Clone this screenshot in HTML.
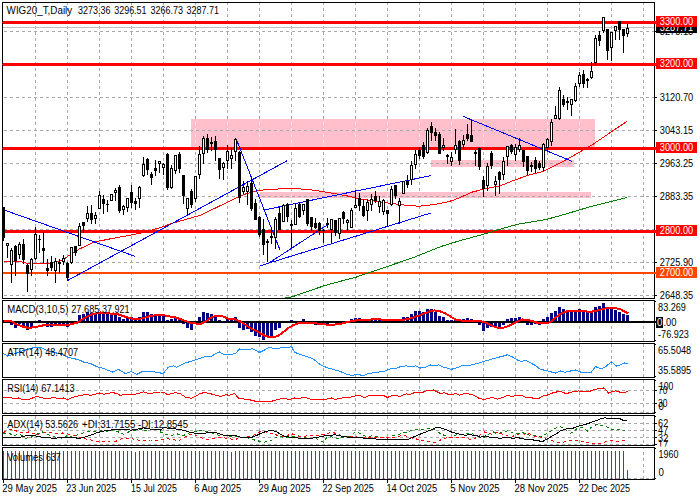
<!DOCTYPE html>
<html><head><meta charset="utf-8"><title>WIG20_T Daily</title>
<style>
html,body{margin:0;padding:0;background:#fff;}
svg{display:block;font-family:"Liberation Sans",sans-serif;font-size:10px;}
svg rect,svg polyline,svg line{shape-rendering:crispEdges;}
</style></head><body>
<svg width="700" height="500" viewBox="0 0 700 500">
<rect x="0" y="0" width="700" height="500" fill="#fff"/>
<rect x="191" y="119" width="404" height="28" fill="#ffc0cb"/>
<rect x="431" y="160" width="143" height="7" fill="#ffc0cb"/>
<rect x="260" y="192" width="331" height="6" fill="#ffc0cb"/>
<line x1="35.5" y1="3" x2="35.5" y2="298" stroke="#a9a9a9" stroke-dasharray="3 3" stroke-dashoffset="1"/>
<line x1="67.5" y1="3" x2="67.5" y2="298" stroke="#a9a9a9" stroke-dasharray="3 3" stroke-dashoffset="1"/>
<line x1="99.5" y1="3" x2="99.5" y2="298" stroke="#a9a9a9" stroke-dasharray="3 3" stroke-dashoffset="1"/>
<line x1="131.5" y1="3" x2="131.5" y2="298" stroke="#a9a9a9" stroke-dasharray="3 3" stroke-dashoffset="1"/>
<line x1="163.5" y1="3" x2="163.5" y2="298" stroke="#a9a9a9" stroke-dasharray="3 3" stroke-dashoffset="1"/>
<line x1="195.5" y1="3" x2="195.5" y2="298" stroke="#a9a9a9" stroke-dasharray="3 3" stroke-dashoffset="1"/>
<line x1="227.5" y1="3" x2="227.5" y2="298" stroke="#a9a9a9" stroke-dasharray="3 3" stroke-dashoffset="1"/>
<line x1="259.5" y1="3" x2="259.5" y2="298" stroke="#a9a9a9" stroke-dasharray="3 3" stroke-dashoffset="1"/>
<line x1="291.5" y1="3" x2="291.5" y2="298" stroke="#a9a9a9" stroke-dasharray="3 3" stroke-dashoffset="1"/>
<line x1="323.5" y1="3" x2="323.5" y2="298" stroke="#a9a9a9" stroke-dasharray="3 3" stroke-dashoffset="1"/>
<line x1="355.5" y1="3" x2="355.5" y2="298" stroke="#a9a9a9" stroke-dasharray="3 3" stroke-dashoffset="1"/>
<line x1="387.5" y1="3" x2="387.5" y2="298" stroke="#a9a9a9" stroke-dasharray="3 3" stroke-dashoffset="1"/>
<line x1="419.5" y1="3" x2="419.5" y2="298" stroke="#a9a9a9" stroke-dasharray="3 3" stroke-dashoffset="1"/>
<line x1="451.5" y1="3" x2="451.5" y2="298" stroke="#a9a9a9" stroke-dasharray="3 3" stroke-dashoffset="1"/>
<line x1="483.5" y1="3" x2="483.5" y2="298" stroke="#a9a9a9" stroke-dasharray="3 3" stroke-dashoffset="1"/>
<line x1="515.5" y1="3" x2="515.5" y2="298" stroke="#a9a9a9" stroke-dasharray="3 3" stroke-dashoffset="1"/>
<line x1="547.5" y1="3" x2="547.5" y2="298" stroke="#a9a9a9" stroke-dasharray="3 3" stroke-dashoffset="1"/>
<line x1="579.5" y1="3" x2="579.5" y2="298" stroke="#a9a9a9" stroke-dasharray="3 3" stroke-dashoffset="1"/>
<line x1="611.5" y1="3" x2="611.5" y2="298" stroke="#a9a9a9" stroke-dasharray="3 3" stroke-dashoffset="1"/>
<line x1="643.5" y1="3" x2="643.5" y2="298" stroke="#a9a9a9" stroke-dasharray="3 3" stroke-dashoffset="1"/>
<line x1="35.5" y1="301" x2="35.5" y2="341" stroke="#a9a9a9" stroke-dasharray="3 3" stroke-dashoffset="5"/>
<line x1="67.5" y1="301" x2="67.5" y2="341" stroke="#a9a9a9" stroke-dasharray="3 3" stroke-dashoffset="5"/>
<line x1="99.5" y1="301" x2="99.5" y2="341" stroke="#a9a9a9" stroke-dasharray="3 3" stroke-dashoffset="5"/>
<line x1="131.5" y1="301" x2="131.5" y2="341" stroke="#a9a9a9" stroke-dasharray="3 3" stroke-dashoffset="5"/>
<line x1="163.5" y1="301" x2="163.5" y2="341" stroke="#a9a9a9" stroke-dasharray="3 3" stroke-dashoffset="5"/>
<line x1="195.5" y1="301" x2="195.5" y2="341" stroke="#a9a9a9" stroke-dasharray="3 3" stroke-dashoffset="5"/>
<line x1="227.5" y1="301" x2="227.5" y2="341" stroke="#a9a9a9" stroke-dasharray="3 3" stroke-dashoffset="5"/>
<line x1="259.5" y1="301" x2="259.5" y2="341" stroke="#a9a9a9" stroke-dasharray="3 3" stroke-dashoffset="5"/>
<line x1="291.5" y1="301" x2="291.5" y2="341" stroke="#a9a9a9" stroke-dasharray="3 3" stroke-dashoffset="5"/>
<line x1="323.5" y1="301" x2="323.5" y2="341" stroke="#a9a9a9" stroke-dasharray="3 3" stroke-dashoffset="5"/>
<line x1="355.5" y1="301" x2="355.5" y2="341" stroke="#a9a9a9" stroke-dasharray="3 3" stroke-dashoffset="5"/>
<line x1="387.5" y1="301" x2="387.5" y2="341" stroke="#a9a9a9" stroke-dasharray="3 3" stroke-dashoffset="5"/>
<line x1="419.5" y1="301" x2="419.5" y2="341" stroke="#a9a9a9" stroke-dasharray="3 3" stroke-dashoffset="5"/>
<line x1="451.5" y1="301" x2="451.5" y2="341" stroke="#a9a9a9" stroke-dasharray="3 3" stroke-dashoffset="5"/>
<line x1="483.5" y1="301" x2="483.5" y2="341" stroke="#a9a9a9" stroke-dasharray="3 3" stroke-dashoffset="5"/>
<line x1="515.5" y1="301" x2="515.5" y2="341" stroke="#a9a9a9" stroke-dasharray="3 3" stroke-dashoffset="5"/>
<line x1="547.5" y1="301" x2="547.5" y2="341" stroke="#a9a9a9" stroke-dasharray="3 3" stroke-dashoffset="5"/>
<line x1="579.5" y1="301" x2="579.5" y2="341" stroke="#a9a9a9" stroke-dasharray="3 3" stroke-dashoffset="5"/>
<line x1="611.5" y1="301" x2="611.5" y2="341" stroke="#a9a9a9" stroke-dasharray="3 3" stroke-dashoffset="5"/>
<line x1="643.5" y1="301" x2="643.5" y2="341" stroke="#a9a9a9" stroke-dasharray="3 3" stroke-dashoffset="5"/>
<line x1="35.5" y1="344" x2="35.5" y2="377" stroke="#a9a9a9" stroke-dasharray="3 3" stroke-dashoffset="0"/>
<line x1="67.5" y1="344" x2="67.5" y2="377" stroke="#a9a9a9" stroke-dasharray="3 3" stroke-dashoffset="0"/>
<line x1="99.5" y1="344" x2="99.5" y2="377" stroke="#a9a9a9" stroke-dasharray="3 3" stroke-dashoffset="0"/>
<line x1="131.5" y1="344" x2="131.5" y2="377" stroke="#a9a9a9" stroke-dasharray="3 3" stroke-dashoffset="0"/>
<line x1="163.5" y1="344" x2="163.5" y2="377" stroke="#a9a9a9" stroke-dasharray="3 3" stroke-dashoffset="0"/>
<line x1="195.5" y1="344" x2="195.5" y2="377" stroke="#a9a9a9" stroke-dasharray="3 3" stroke-dashoffset="0"/>
<line x1="227.5" y1="344" x2="227.5" y2="377" stroke="#a9a9a9" stroke-dasharray="3 3" stroke-dashoffset="0"/>
<line x1="259.5" y1="344" x2="259.5" y2="377" stroke="#a9a9a9" stroke-dasharray="3 3" stroke-dashoffset="0"/>
<line x1="291.5" y1="344" x2="291.5" y2="377" stroke="#a9a9a9" stroke-dasharray="3 3" stroke-dashoffset="0"/>
<line x1="323.5" y1="344" x2="323.5" y2="377" stroke="#a9a9a9" stroke-dasharray="3 3" stroke-dashoffset="0"/>
<line x1="355.5" y1="344" x2="355.5" y2="377" stroke="#a9a9a9" stroke-dasharray="3 3" stroke-dashoffset="0"/>
<line x1="387.5" y1="344" x2="387.5" y2="377" stroke="#a9a9a9" stroke-dasharray="3 3" stroke-dashoffset="0"/>
<line x1="419.5" y1="344" x2="419.5" y2="377" stroke="#a9a9a9" stroke-dasharray="3 3" stroke-dashoffset="0"/>
<line x1="451.5" y1="344" x2="451.5" y2="377" stroke="#a9a9a9" stroke-dasharray="3 3" stroke-dashoffset="0"/>
<line x1="483.5" y1="344" x2="483.5" y2="377" stroke="#a9a9a9" stroke-dasharray="3 3" stroke-dashoffset="0"/>
<line x1="515.5" y1="344" x2="515.5" y2="377" stroke="#a9a9a9" stroke-dasharray="3 3" stroke-dashoffset="0"/>
<line x1="547.5" y1="344" x2="547.5" y2="377" stroke="#a9a9a9" stroke-dasharray="3 3" stroke-dashoffset="0"/>
<line x1="579.5" y1="344" x2="579.5" y2="377" stroke="#a9a9a9" stroke-dasharray="3 3" stroke-dashoffset="0"/>
<line x1="611.5" y1="344" x2="611.5" y2="377" stroke="#a9a9a9" stroke-dasharray="3 3" stroke-dashoffset="0"/>
<line x1="643.5" y1="344" x2="643.5" y2="377" stroke="#a9a9a9" stroke-dasharray="3 3" stroke-dashoffset="0"/>
<line x1="35.5" y1="380" x2="35.5" y2="413" stroke="#a9a9a9" stroke-dasharray="3 3" stroke-dashoffset="0"/>
<line x1="67.5" y1="380" x2="67.5" y2="413" stroke="#a9a9a9" stroke-dasharray="3 3" stroke-dashoffset="0"/>
<line x1="99.5" y1="380" x2="99.5" y2="413" stroke="#a9a9a9" stroke-dasharray="3 3" stroke-dashoffset="0"/>
<line x1="131.5" y1="380" x2="131.5" y2="413" stroke="#a9a9a9" stroke-dasharray="3 3" stroke-dashoffset="0"/>
<line x1="163.5" y1="380" x2="163.5" y2="413" stroke="#a9a9a9" stroke-dasharray="3 3" stroke-dashoffset="0"/>
<line x1="195.5" y1="380" x2="195.5" y2="413" stroke="#a9a9a9" stroke-dasharray="3 3" stroke-dashoffset="0"/>
<line x1="227.5" y1="380" x2="227.5" y2="413" stroke="#a9a9a9" stroke-dasharray="3 3" stroke-dashoffset="0"/>
<line x1="259.5" y1="380" x2="259.5" y2="413" stroke="#a9a9a9" stroke-dasharray="3 3" stroke-dashoffset="0"/>
<line x1="291.5" y1="380" x2="291.5" y2="413" stroke="#a9a9a9" stroke-dasharray="3 3" stroke-dashoffset="0"/>
<line x1="323.5" y1="380" x2="323.5" y2="413" stroke="#a9a9a9" stroke-dasharray="3 3" stroke-dashoffset="0"/>
<line x1="355.5" y1="380" x2="355.5" y2="413" stroke="#a9a9a9" stroke-dasharray="3 3" stroke-dashoffset="0"/>
<line x1="387.5" y1="380" x2="387.5" y2="413" stroke="#a9a9a9" stroke-dasharray="3 3" stroke-dashoffset="0"/>
<line x1="419.5" y1="380" x2="419.5" y2="413" stroke="#a9a9a9" stroke-dasharray="3 3" stroke-dashoffset="0"/>
<line x1="451.5" y1="380" x2="451.5" y2="413" stroke="#a9a9a9" stroke-dasharray="3 3" stroke-dashoffset="0"/>
<line x1="483.5" y1="380" x2="483.5" y2="413" stroke="#a9a9a9" stroke-dasharray="3 3" stroke-dashoffset="0"/>
<line x1="515.5" y1="380" x2="515.5" y2="413" stroke="#a9a9a9" stroke-dasharray="3 3" stroke-dashoffset="0"/>
<line x1="547.5" y1="380" x2="547.5" y2="413" stroke="#a9a9a9" stroke-dasharray="3 3" stroke-dashoffset="0"/>
<line x1="579.5" y1="380" x2="579.5" y2="413" stroke="#a9a9a9" stroke-dasharray="3 3" stroke-dashoffset="0"/>
<line x1="611.5" y1="380" x2="611.5" y2="413" stroke="#a9a9a9" stroke-dasharray="3 3" stroke-dashoffset="0"/>
<line x1="643.5" y1="380" x2="643.5" y2="413" stroke="#a9a9a9" stroke-dasharray="3 3" stroke-dashoffset="0"/>
<line x1="35.5" y1="416" x2="35.5" y2="445" stroke="#a9a9a9" stroke-dasharray="3 3" stroke-dashoffset="0"/>
<line x1="67.5" y1="416" x2="67.5" y2="445" stroke="#a9a9a9" stroke-dasharray="3 3" stroke-dashoffset="0"/>
<line x1="99.5" y1="416" x2="99.5" y2="445" stroke="#a9a9a9" stroke-dasharray="3 3" stroke-dashoffset="0"/>
<line x1="131.5" y1="416" x2="131.5" y2="445" stroke="#a9a9a9" stroke-dasharray="3 3" stroke-dashoffset="0"/>
<line x1="163.5" y1="416" x2="163.5" y2="445" stroke="#a9a9a9" stroke-dasharray="3 3" stroke-dashoffset="0"/>
<line x1="195.5" y1="416" x2="195.5" y2="445" stroke="#a9a9a9" stroke-dasharray="3 3" stroke-dashoffset="0"/>
<line x1="227.5" y1="416" x2="227.5" y2="445" stroke="#a9a9a9" stroke-dasharray="3 3" stroke-dashoffset="0"/>
<line x1="259.5" y1="416" x2="259.5" y2="445" stroke="#a9a9a9" stroke-dasharray="3 3" stroke-dashoffset="0"/>
<line x1="291.5" y1="416" x2="291.5" y2="445" stroke="#a9a9a9" stroke-dasharray="3 3" stroke-dashoffset="0"/>
<line x1="323.5" y1="416" x2="323.5" y2="445" stroke="#a9a9a9" stroke-dasharray="3 3" stroke-dashoffset="0"/>
<line x1="355.5" y1="416" x2="355.5" y2="445" stroke="#a9a9a9" stroke-dasharray="3 3" stroke-dashoffset="0"/>
<line x1="387.5" y1="416" x2="387.5" y2="445" stroke="#a9a9a9" stroke-dasharray="3 3" stroke-dashoffset="0"/>
<line x1="419.5" y1="416" x2="419.5" y2="445" stroke="#a9a9a9" stroke-dasharray="3 3" stroke-dashoffset="0"/>
<line x1="451.5" y1="416" x2="451.5" y2="445" stroke="#a9a9a9" stroke-dasharray="3 3" stroke-dashoffset="0"/>
<line x1="483.5" y1="416" x2="483.5" y2="445" stroke="#a9a9a9" stroke-dasharray="3 3" stroke-dashoffset="0"/>
<line x1="515.5" y1="416" x2="515.5" y2="445" stroke="#a9a9a9" stroke-dasharray="3 3" stroke-dashoffset="0"/>
<line x1="547.5" y1="416" x2="547.5" y2="445" stroke="#a9a9a9" stroke-dasharray="3 3" stroke-dashoffset="0"/>
<line x1="579.5" y1="416" x2="579.5" y2="445" stroke="#a9a9a9" stroke-dasharray="3 3" stroke-dashoffset="0"/>
<line x1="611.5" y1="416" x2="611.5" y2="445" stroke="#a9a9a9" stroke-dasharray="3 3" stroke-dashoffset="0"/>
<line x1="643.5" y1="416" x2="643.5" y2="445" stroke="#a9a9a9" stroke-dasharray="3 3" stroke-dashoffset="0"/>
<line x1="35.5" y1="448" x2="35.5" y2="479" stroke="#a9a9a9" stroke-dasharray="3 3" stroke-dashoffset="2"/>
<line x1="67.5" y1="448" x2="67.5" y2="479" stroke="#a9a9a9" stroke-dasharray="3 3" stroke-dashoffset="2"/>
<line x1="99.5" y1="448" x2="99.5" y2="479" stroke="#a9a9a9" stroke-dasharray="3 3" stroke-dashoffset="2"/>
<line x1="131.5" y1="448" x2="131.5" y2="479" stroke="#a9a9a9" stroke-dasharray="3 3" stroke-dashoffset="2"/>
<line x1="163.5" y1="448" x2="163.5" y2="479" stroke="#a9a9a9" stroke-dasharray="3 3" stroke-dashoffset="2"/>
<line x1="195.5" y1="448" x2="195.5" y2="479" stroke="#a9a9a9" stroke-dasharray="3 3" stroke-dashoffset="2"/>
<line x1="227.5" y1="448" x2="227.5" y2="479" stroke="#a9a9a9" stroke-dasharray="3 3" stroke-dashoffset="2"/>
<line x1="259.5" y1="448" x2="259.5" y2="479" stroke="#a9a9a9" stroke-dasharray="3 3" stroke-dashoffset="2"/>
<line x1="291.5" y1="448" x2="291.5" y2="479" stroke="#a9a9a9" stroke-dasharray="3 3" stroke-dashoffset="2"/>
<line x1="323.5" y1="448" x2="323.5" y2="479" stroke="#a9a9a9" stroke-dasharray="3 3" stroke-dashoffset="2"/>
<line x1="355.5" y1="448" x2="355.5" y2="479" stroke="#a9a9a9" stroke-dasharray="3 3" stroke-dashoffset="2"/>
<line x1="387.5" y1="448" x2="387.5" y2="479" stroke="#a9a9a9" stroke-dasharray="3 3" stroke-dashoffset="2"/>
<line x1="419.5" y1="448" x2="419.5" y2="479" stroke="#a9a9a9" stroke-dasharray="3 3" stroke-dashoffset="2"/>
<line x1="451.5" y1="448" x2="451.5" y2="479" stroke="#a9a9a9" stroke-dasharray="3 3" stroke-dashoffset="2"/>
<line x1="483.5" y1="448" x2="483.5" y2="479" stroke="#a9a9a9" stroke-dasharray="3 3" stroke-dashoffset="2"/>
<line x1="515.5" y1="448" x2="515.5" y2="479" stroke="#a9a9a9" stroke-dasharray="3 3" stroke-dashoffset="2"/>
<line x1="547.5" y1="448" x2="547.5" y2="479" stroke="#a9a9a9" stroke-dasharray="3 3" stroke-dashoffset="2"/>
<line x1="579.5" y1="448" x2="579.5" y2="479" stroke="#a9a9a9" stroke-dasharray="3 3" stroke-dashoffset="2"/>
<line x1="611.5" y1="448" x2="611.5" y2="479" stroke="#a9a9a9" stroke-dasharray="3 3" stroke-dashoffset="2"/>
<line x1="643.5" y1="448" x2="643.5" y2="479" stroke="#a9a9a9" stroke-dasharray="3 3" stroke-dashoffset="2"/>
<line x1="195.5" y1="119" x2="195.5" y2="147" stroke="#c0fff0" stroke-dasharray="3 3" stroke-dashoffset="3"/>
<line x1="227.5" y1="119" x2="227.5" y2="147" stroke="#c0fff0" stroke-dasharray="3 3" stroke-dashoffset="3"/>
<line x1="259.5" y1="119" x2="259.5" y2="147" stroke="#c0fff0" stroke-dasharray="3 3" stroke-dashoffset="3"/>
<line x1="291.5" y1="119" x2="291.5" y2="147" stroke="#c0fff0" stroke-dasharray="3 3" stroke-dashoffset="3"/>
<line x1="323.5" y1="119" x2="323.5" y2="147" stroke="#c0fff0" stroke-dasharray="3 3" stroke-dashoffset="3"/>
<line x1="355.5" y1="119" x2="355.5" y2="147" stroke="#c0fff0" stroke-dasharray="3 3" stroke-dashoffset="3"/>
<line x1="387.5" y1="119" x2="387.5" y2="147" stroke="#c0fff0" stroke-dasharray="3 3" stroke-dashoffset="3"/>
<line x1="419.5" y1="119" x2="419.5" y2="147" stroke="#c0fff0" stroke-dasharray="3 3" stroke-dashoffset="3"/>
<line x1="451.5" y1="119" x2="451.5" y2="147" stroke="#c0fff0" stroke-dasharray="3 3" stroke-dashoffset="3"/>
<line x1="483.5" y1="119" x2="483.5" y2="147" stroke="#c0fff0" stroke-dasharray="3 3" stroke-dashoffset="3"/>
<line x1="515.5" y1="119" x2="515.5" y2="147" stroke="#c0fff0" stroke-dasharray="3 3" stroke-dashoffset="3"/>
<line x1="547.5" y1="119" x2="547.5" y2="147" stroke="#c0fff0" stroke-dasharray="3 3" stroke-dashoffset="3"/>
<line x1="579.5" y1="119" x2="579.5" y2="147" stroke="#c0fff0" stroke-dasharray="3 3" stroke-dashoffset="3"/>
<line x1="451.5" y1="160" x2="451.5" y2="167" stroke="#c0fff0" stroke-dasharray="3 3" stroke-dashoffset="2"/>
<line x1="483.5" y1="160" x2="483.5" y2="167" stroke="#c0fff0" stroke-dasharray="3 3" stroke-dashoffset="2"/>
<line x1="515.5" y1="160" x2="515.5" y2="167" stroke="#c0fff0" stroke-dasharray="3 3" stroke-dashoffset="2"/>
<line x1="547.5" y1="160" x2="547.5" y2="167" stroke="#c0fff0" stroke-dasharray="3 3" stroke-dashoffset="2"/>
<line x1="291.5" y1="192" x2="291.5" y2="198" stroke="#c0fff0" stroke-dasharray="3 3" stroke-dashoffset="4"/>
<line x1="323.5" y1="192" x2="323.5" y2="198" stroke="#c0fff0" stroke-dasharray="3 3" stroke-dashoffset="4"/>
<line x1="355.5" y1="192" x2="355.5" y2="198" stroke="#c0fff0" stroke-dasharray="3 3" stroke-dashoffset="4"/>
<line x1="387.5" y1="192" x2="387.5" y2="198" stroke="#c0fff0" stroke-dasharray="3 3" stroke-dashoffset="4"/>
<line x1="419.5" y1="192" x2="419.5" y2="198" stroke="#c0fff0" stroke-dasharray="3 3" stroke-dashoffset="4"/>
<line x1="451.5" y1="192" x2="451.5" y2="198" stroke="#c0fff0" stroke-dasharray="3 3" stroke-dashoffset="4"/>
<line x1="483.5" y1="192" x2="483.5" y2="198" stroke="#c0fff0" stroke-dasharray="3 3" stroke-dashoffset="4"/>
<line x1="515.5" y1="192" x2="515.5" y2="198" stroke="#c0fff0" stroke-dasharray="3 3" stroke-dashoffset="4"/>
<line x1="547.5" y1="192" x2="547.5" y2="198" stroke="#c0fff0" stroke-dasharray="3 3" stroke-dashoffset="4"/>
<line x1="579.5" y1="192" x2="579.5" y2="198" stroke="#c0fff0" stroke-dasharray="3 3" stroke-dashoffset="4"/>
<line x1="3" y1="31.5" x2="654" y2="31.5" stroke="#a9a9a9" stroke-dasharray="3 3" stroke-dashoffset="5"/>
<line x1="3" y1="64.5" x2="654" y2="64.5" stroke="#a9a9a9" stroke-dasharray="3 3" stroke-dashoffset="5"/>
<line x1="3" y1="97.5" x2="654" y2="97.5" stroke="#a9a9a9" stroke-dasharray="3 3" stroke-dashoffset="5"/>
<line x1="3" y1="130.5" x2="654" y2="130.5" stroke="#a9a9a9" stroke-dasharray="3 3" stroke-dashoffset="5"/>
<line x1="3" y1="163.5" x2="654" y2="163.5" stroke="#a9a9a9" stroke-dasharray="3 3" stroke-dashoffset="5"/>
<line x1="3" y1="196.5" x2="654" y2="196.5" stroke="#a9a9a9" stroke-dasharray="3 3" stroke-dashoffset="5"/>
<line x1="3" y1="229.5" x2="654" y2="229.5" stroke="#a9a9a9" stroke-dasharray="3 3" stroke-dashoffset="5"/>
<line x1="3" y1="262.5" x2="654" y2="262.5" stroke="#a9a9a9" stroke-dasharray="3 3" stroke-dashoffset="5"/>
<line x1="3" y1="295.5" x2="654" y2="295.5" stroke="#a9a9a9" stroke-dasharray="3 3" stroke-dashoffset="5"/>
<line x1="3" y1="390.5" x2="654" y2="390.5" stroke="#a9a9a9" stroke-dasharray="3 3" stroke-dashoffset="5"/>
<line x1="3" y1="403.5" x2="654" y2="403.5" stroke="#a9a9a9" stroke-dasharray="3 3" stroke-dashoffset="5"/>
<line x1="3" y1="412.5" x2="654" y2="412.5" stroke="#a9a9a9" stroke-dasharray="3 3" stroke-dashoffset="5"/>
<line x1="3" y1="423.5" x2="654" y2="423.5" stroke="#a9a9a9" stroke-dasharray="3 3" stroke-dashoffset="5"/>
<line x1="3" y1="430.5" x2="654" y2="430.5" stroke="#a9a9a9" stroke-dasharray="3 3" stroke-dashoffset="5"/>
<line x1="3" y1="437.5" x2="654" y2="437.5" stroke="#a9a9a9" stroke-dasharray="3 3" stroke-dashoffset="5"/>
<line x1="3" y1="444.5" x2="654" y2="444.5" stroke="#a9a9a9" stroke-dasharray="3 3" stroke-dashoffset="5"/>
<line x1="3" y1="478.5" x2="654" y2="478.5" stroke="#a9a9a9" stroke-dasharray="3 3" stroke-dashoffset="5"/>
<rect x="3" y="27" width="651" height="1" fill="#c0c0c0"/>
<rect x="3" y="451" width="1" height="28" fill="#008000"/>
<rect x="7" y="451" width="1" height="28" fill="#008000"/>
<rect x="11" y="451" width="1" height="28" fill="#008000"/>
<rect x="15" y="451" width="1" height="28" fill="#ff0000"/>
<rect x="19" y="451" width="1" height="28" fill="#008000"/>
<rect x="23" y="451" width="1" height="28" fill="#ff0000"/>
<rect x="27" y="451" width="1" height="28" fill="#ff0000"/>
<rect x="31" y="451" width="1" height="28" fill="#ff0000"/>
<rect x="35" y="451" width="1" height="28" fill="#008000"/>
<rect x="39" y="451" width="1" height="28" fill="#ff0000"/>
<rect x="43" y="451" width="1" height="28" fill="#008000"/>
<rect x="47" y="451" width="1" height="28" fill="#ff0000"/>
<rect x="51" y="451" width="1" height="28" fill="#ff0000"/>
<rect x="55" y="451" width="1" height="28" fill="#008000"/>
<rect x="59" y="451" width="1" height="28" fill="#ff0000"/>
<rect x="63" y="451" width="1" height="28" fill="#ff0000"/>
<rect x="67" y="451" width="1" height="28" fill="#008000"/>
<rect x="71" y="451" width="1" height="28" fill="#008000"/>
<rect x="75" y="451" width="1" height="28" fill="#ff0000"/>
<rect x="79" y="451" width="1" height="28" fill="#008000"/>
<rect x="83" y="451" width="1" height="28" fill="#008000"/>
<rect x="87" y="451" width="1" height="28" fill="#008000"/>
<rect x="91" y="451" width="1" height="28" fill="#008000"/>
<rect x="95" y="451" width="1" height="28" fill="#ff0000"/>
<rect x="99" y="451" width="1" height="28" fill="#ff0000"/>
<rect x="103" y="451" width="1" height="28" fill="#008000"/>
<rect x="107" y="451" width="1" height="28" fill="#ff0000"/>
<rect x="111" y="451" width="1" height="28" fill="#008000"/>
<rect x="115" y="451" width="1" height="28" fill="#008000"/>
<rect x="119" y="451" width="1" height="28" fill="#008000"/>
<rect x="123" y="451" width="1" height="28" fill="#008000"/>
<rect x="127" y="451" width="1" height="28" fill="#ff0000"/>
<rect x="131" y="451" width="1" height="28" fill="#008000"/>
<rect x="135" y="452" width="1" height="27" fill="#ff0000"/>
<rect x="139" y="451" width="1" height="28" fill="#008000"/>
<rect x="143" y="451" width="1" height="28" fill="#008000"/>
<rect x="147" y="451" width="1" height="28" fill="#ff0000"/>
<rect x="151" y="451" width="1" height="28" fill="#ff0000"/>
<rect x="155" y="451" width="1" height="28" fill="#008000"/>
<rect x="159" y="451" width="1" height="28" fill="#008000"/>
<rect x="163" y="451" width="1" height="28" fill="#ff0000"/>
<rect x="167" y="451" width="1" height="28" fill="#008000"/>
<rect x="171" y="451" width="1" height="28" fill="#ff0000"/>
<rect x="175" y="451" width="1" height="28" fill="#ff0000"/>
<rect x="179" y="451" width="1" height="28" fill="#008000"/>
<rect x="183" y="451" width="1" height="28" fill="#008000"/>
<rect x="187" y="451" width="1" height="28" fill="#ff0000"/>
<rect x="191" y="451" width="1" height="28" fill="#ff0000"/>
<rect x="195" y="451" width="1" height="28" fill="#008000"/>
<rect x="199" y="451" width="1" height="28" fill="#ff0000"/>
<rect x="203" y="451" width="1" height="28" fill="#ff0000"/>
<rect x="207" y="451" width="1" height="28" fill="#ff0000"/>
<rect x="211" y="451" width="1" height="28" fill="#ff0000"/>
<rect x="215" y="451" width="1" height="28" fill="#008000"/>
<rect x="219" y="451" width="1" height="28" fill="#ff0000"/>
<rect x="223" y="451" width="1" height="28" fill="#008000"/>
<rect x="227" y="451" width="1" height="28" fill="#ff0000"/>
<rect x="231" y="452" width="1" height="27" fill="#ff0000"/>
<rect x="235" y="451" width="1" height="28" fill="#008000"/>
<rect x="239" y="451" width="1" height="28" fill="#008000"/>
<rect x="243" y="451" width="1" height="28" fill="#ff0000"/>
<rect x="247" y="451" width="1" height="28" fill="#008000"/>
<rect x="251" y="451" width="1" height="28" fill="#008000"/>
<rect x="255" y="451" width="1" height="28" fill="#008000"/>
<rect x="259" y="451" width="1" height="28" fill="#ff0000"/>
<rect x="263" y="451" width="1" height="28" fill="#008000"/>
<rect x="267" y="451" width="1" height="28" fill="#ff0000"/>
<rect x="271" y="451" width="1" height="28" fill="#008000"/>
<rect x="275" y="451" width="1" height="28" fill="#ff0000"/>
<rect x="279" y="451" width="1" height="28" fill="#008000"/>
<rect x="283" y="451" width="1" height="28" fill="#ff0000"/>
<rect x="287" y="451" width="1" height="28" fill="#ff0000"/>
<rect x="291" y="451" width="1" height="28" fill="#008000"/>
<rect x="295" y="451" width="1" height="28" fill="#ff0000"/>
<rect x="299" y="451" width="1" height="28" fill="#ff0000"/>
<rect x="303" y="451" width="1" height="28" fill="#ff0000"/>
<rect x="307" y="451" width="1" height="28" fill="#ff0000"/>
<rect x="311" y="451" width="1" height="28" fill="#ff0000"/>
<rect x="315" y="451" width="1" height="28" fill="#008000"/>
<rect x="319" y="451" width="1" height="28" fill="#ff0000"/>
<rect x="323" y="451" width="1" height="28" fill="#008000"/>
<rect x="327" y="451" width="1" height="28" fill="#ff0000"/>
<rect x="331" y="451" width="1" height="28" fill="#008000"/>
<rect x="335" y="451" width="1" height="28" fill="#008000"/>
<rect x="339" y="451" width="1" height="28" fill="#ff0000"/>
<rect x="343" y="451" width="1" height="28" fill="#008000"/>
<rect x="347" y="451" width="1" height="28" fill="#ff0000"/>
<rect x="351" y="451" width="1" height="28" fill="#008000"/>
<rect x="355" y="451" width="1" height="28" fill="#ff0000"/>
<rect x="359" y="451" width="1" height="28" fill="#ff0000"/>
<rect x="363" y="451" width="1" height="28" fill="#ff0000"/>
<rect x="367" y="451" width="1" height="28" fill="#008000"/>
<rect x="371" y="451" width="1" height="28" fill="#008000"/>
<rect x="375" y="451" width="1" height="28" fill="#ff0000"/>
<rect x="379" y="451" width="1" height="28" fill="#008000"/>
<rect x="383" y="451" width="1" height="28" fill="#ff0000"/>
<rect x="387" y="451" width="1" height="28" fill="#008000"/>
<rect x="391" y="451" width="1" height="28" fill="#ff0000"/>
<rect x="395" y="451" width="1" height="28" fill="#008000"/>
<rect x="399" y="451" width="1" height="28" fill="#008000"/>
<rect x="403" y="451" width="1" height="28" fill="#ff0000"/>
<rect x="407" y="451" width="1" height="28" fill="#008000"/>
<rect x="411" y="451" width="1" height="28" fill="#ff0000"/>
<rect x="415" y="451" width="1" height="28" fill="#008000"/>
<rect x="419" y="451" width="1" height="28" fill="#ff0000"/>
<rect x="423" y="451" width="1" height="28" fill="#008000"/>
<rect x="427" y="451" width="1" height="28" fill="#008000"/>
<rect x="431" y="451" width="1" height="28" fill="#008000"/>
<rect x="435" y="451" width="1" height="28" fill="#008000"/>
<rect x="439" y="451" width="1" height="28" fill="#ff0000"/>
<rect x="443" y="451" width="1" height="28" fill="#ff0000"/>
<rect x="447" y="451" width="1" height="28" fill="#ff0000"/>
<rect x="451" y="451" width="1" height="28" fill="#008000"/>
<rect x="455" y="451" width="1" height="28" fill="#008000"/>
<rect x="459" y="451" width="1" height="28" fill="#008000"/>
<rect x="463" y="451" width="1" height="28" fill="#ff0000"/>
<rect x="467" y="451" width="1" height="28" fill="#008000"/>
<rect x="471" y="451" width="1" height="28" fill="#ff0000"/>
<rect x="475" y="451" width="1" height="28" fill="#008000"/>
<rect x="479" y="451" width="1" height="28" fill="#ff0000"/>
<rect x="483" y="451" width="1" height="28" fill="#008000"/>
<rect x="487" y="451" width="1" height="28" fill="#ff0000"/>
<rect x="491" y="451" width="1" height="28" fill="#008000"/>
<rect x="495" y="451" width="1" height="28" fill="#008000"/>
<rect x="499" y="451" width="1" height="28" fill="#ff0000"/>
<rect x="503" y="451" width="1" height="28" fill="#ff0000"/>
<rect x="507" y="451" width="1" height="28" fill="#008000"/>
<rect x="511" y="451" width="1" height="28" fill="#008000"/>
<rect x="515" y="451" width="1" height="28" fill="#ff0000"/>
<rect x="519" y="451" width="1" height="28" fill="#008000"/>
<rect x="523" y="451" width="1" height="28" fill="#008000"/>
<rect x="527" y="451" width="1" height="28" fill="#008000"/>
<rect x="531" y="451" width="1" height="28" fill="#008000"/>
<rect x="535" y="451" width="1" height="28" fill="#ff0000"/>
<rect x="539" y="451" width="1" height="28" fill="#ff0000"/>
<rect x="543" y="451" width="1" height="28" fill="#008000"/>
<rect x="547" y="451" width="1" height="28" fill="#008000"/>
<rect x="551" y="451" width="1" height="28" fill="#ff0000"/>
<rect x="555" y="451" width="1" height="28" fill="#ff0000"/>
<rect x="559" y="451" width="1" height="28" fill="#008000"/>
<rect x="563" y="451" width="1" height="28" fill="#ff0000"/>
<rect x="567" y="451" width="1" height="28" fill="#ff0000"/>
<rect x="571" y="451" width="1" height="28" fill="#ff0000"/>
<rect x="575" y="451" width="1" height="28" fill="#008000"/>
<rect x="579" y="451" width="1" height="28" fill="#008000"/>
<rect x="583" y="451" width="1" height="28" fill="#ff0000"/>
<rect x="587" y="451" width="1" height="28" fill="#008000"/>
<rect x="591" y="451" width="1" height="28" fill="#ff0000"/>
<rect x="595" y="451" width="1" height="28" fill="#008000"/>
<rect x="599" y="451" width="1" height="28" fill="#008000"/>
<rect x="603" y="451" width="1" height="28" fill="#008000"/>
<rect x="607" y="451" width="1" height="28" fill="#008000"/>
<rect x="611" y="451" width="1" height="28" fill="#ff0000"/>
<rect x="615" y="451" width="1" height="28" fill="#008000"/>
<rect x="619" y="451" width="1" height="28" fill="#008000"/>
<rect x="623" y="451" width="1" height="28" fill="#ff0000"/>
<rect x="627" y="470" width="1" height="9" fill="#ff0000"/>
<rect x="2" y="320" width="3" height="1" fill="#000080"/>
<rect x="6" y="320" width="3" height="1" fill="#000080"/>
<rect x="10" y="323" width="3" height="2" fill="#000080"/>
<rect x="14" y="323" width="3" height="5" fill="#000080"/>
<rect x="18" y="323" width="3" height="1" fill="#000080"/>
<rect x="22" y="323" width="3" height="4" fill="#000080"/>
<rect x="26" y="323" width="3" height="7" fill="#000080"/>
<rect x="30" y="323" width="3" height="4" fill="#000080"/>
<rect x="38" y="320" width="3" height="1" fill="#000080"/>
<rect x="46" y="323" width="3" height="4" fill="#000080"/>
<rect x="50" y="323" width="3" height="4" fill="#000080"/>
<rect x="54" y="323" width="3" height="1" fill="#000080"/>
<rect x="58" y="323" width="3" height="1" fill="#000080"/>
<rect x="62" y="323" width="3" height="1" fill="#000080"/>
<rect x="66" y="323" width="3" height="4" fill="#000080"/>
<rect x="78" y="315" width="3" height="6" fill="#000080"/>
<rect x="82" y="314" width="3" height="7" fill="#000080"/>
<rect x="86" y="312" width="3" height="9" fill="#000080"/>
<rect x="90" y="313" width="3" height="8" fill="#000080"/>
<rect x="94" y="313" width="3" height="8" fill="#000080"/>
<rect x="98" y="312" width="3" height="9" fill="#000080"/>
<rect x="102" y="312" width="3" height="9" fill="#000080"/>
<rect x="106" y="313" width="3" height="8" fill="#000080"/>
<rect x="110" y="313" width="3" height="8" fill="#000080"/>
<rect x="114" y="314" width="3" height="7" fill="#000080"/>
<rect x="118" y="317" width="3" height="4" fill="#000080"/>
<rect x="122" y="319" width="3" height="2" fill="#000080"/>
<rect x="126" y="318" width="3" height="3" fill="#000080"/>
<rect x="130" y="317" width="3" height="4" fill="#000080"/>
<rect x="134" y="319" width="3" height="2" fill="#000080"/>
<rect x="138" y="317" width="3" height="4" fill="#000080"/>
<rect x="142" y="312" width="3" height="9" fill="#000080"/>
<rect x="146" y="312" width="3" height="9" fill="#000080"/>
<rect x="150" y="314" width="3" height="7" fill="#000080"/>
<rect x="154" y="314" width="3" height="7" fill="#000080"/>
<rect x="158" y="314" width="3" height="7" fill="#000080"/>
<rect x="162" y="314" width="3" height="7" fill="#000080"/>
<rect x="166" y="320" width="3" height="1" fill="#000080"/>
<rect x="170" y="319" width="3" height="2" fill="#000080"/>
<rect x="174" y="317" width="3" height="4" fill="#000080"/>
<rect x="178" y="320" width="3" height="1" fill="#000080"/>
<rect x="182" y="323" width="3" height="1" fill="#000080"/>
<rect x="186" y="323" width="3" height="5" fill="#000080"/>
<rect x="190" y="323" width="3" height="7" fill="#000080"/>
<rect x="198" y="317" width="3" height="4" fill="#000080"/>
<rect x="202" y="312" width="3" height="9" fill="#000080"/>
<rect x="206" y="313" width="3" height="8" fill="#000080"/>
<rect x="210" y="314" width="3" height="7" fill="#000080"/>
<rect x="214" y="316" width="3" height="5" fill="#000080"/>
<rect x="218" y="320" width="3" height="1" fill="#000080"/>
<rect x="226" y="319" width="3" height="2" fill="#000080"/>
<rect x="230" y="319" width="3" height="2" fill="#000080"/>
<rect x="234" y="317" width="3" height="4" fill="#000080"/>
<rect x="238" y="323" width="3" height="5" fill="#000080"/>
<rect x="242" y="323" width="3" height="7" fill="#000080"/>
<rect x="246" y="323" width="3" height="6" fill="#000080"/>
<rect x="250" y="323" width="3" height="9" fill="#000080"/>
<rect x="254" y="323" width="3" height="13" fill="#000080"/>
<rect x="258" y="323" width="3" height="14" fill="#000080"/>
<rect x="262" y="323" width="3" height="17" fill="#000080"/>
<rect x="266" y="323" width="3" height="14" fill="#000080"/>
<rect x="270" y="323" width="3" height="13" fill="#000080"/>
<rect x="274" y="323" width="3" height="7" fill="#000080"/>
<rect x="278" y="323" width="3" height="5" fill="#000080"/>
<rect x="290" y="320" width="3" height="1" fill="#000080"/>
<rect x="302" y="319" width="3" height="2" fill="#000080"/>
<rect x="310" y="323" width="3" height="1" fill="#000080"/>
<rect x="314" y="323" width="3" height="2" fill="#000080"/>
<rect x="318" y="323" width="3" height="2" fill="#000080"/>
<rect x="322" y="323" width="3" height="2" fill="#000080"/>
<rect x="326" y="323" width="3" height="1" fill="#000080"/>
<rect x="350" y="319" width="3" height="2" fill="#000080"/>
<rect x="354" y="318" width="3" height="3" fill="#000080"/>
<rect x="358" y="318" width="3" height="3" fill="#000080"/>
<rect x="362" y="320" width="3" height="1" fill="#000080"/>
<rect x="366" y="320" width="3" height="1" fill="#000080"/>
<rect x="370" y="319" width="3" height="2" fill="#000080"/>
<rect x="374" y="318" width="3" height="3" fill="#000080"/>
<rect x="378" y="319" width="3" height="2" fill="#000080"/>
<rect x="382" y="320" width="3" height="1" fill="#000080"/>
<rect x="386" y="320" width="3" height="1" fill="#000080"/>
<rect x="390" y="320" width="3" height="1" fill="#000080"/>
<rect x="394" y="319" width="3" height="2" fill="#000080"/>
<rect x="398" y="320" width="3" height="1" fill="#000080"/>
<rect x="402" y="317" width="3" height="4" fill="#000080"/>
<rect x="406" y="317" width="3" height="4" fill="#000080"/>
<rect x="410" y="314" width="3" height="7" fill="#000080"/>
<rect x="414" y="311" width="3" height="10" fill="#000080"/>
<rect x="418" y="311" width="3" height="10" fill="#000080"/>
<rect x="422" y="312" width="3" height="9" fill="#000080"/>
<rect x="426" y="309" width="3" height="12" fill="#000080"/>
<rect x="430" y="309" width="3" height="12" fill="#000080"/>
<rect x="434" y="312" width="3" height="9" fill="#000080"/>
<rect x="438" y="316" width="3" height="5" fill="#000080"/>
<rect x="442" y="317" width="3" height="4" fill="#000080"/>
<rect x="446" y="320" width="3" height="1" fill="#000080"/>
<rect x="450" y="320" width="3" height="1" fill="#000080"/>
<rect x="454" y="320" width="3" height="1" fill="#000080"/>
<rect x="462" y="319" width="3" height="2" fill="#000080"/>
<rect x="466" y="318" width="3" height="3" fill="#000080"/>
<rect x="470" y="319" width="3" height="2" fill="#000080"/>
<rect x="478" y="323" width="3" height="2" fill="#000080"/>
<rect x="482" y="323" width="3" height="8" fill="#000080"/>
<rect x="486" y="323" width="3" height="5" fill="#000080"/>
<rect x="490" y="323" width="3" height="4" fill="#000080"/>
<rect x="494" y="323" width="3" height="5" fill="#000080"/>
<rect x="498" y="323" width="3" height="5" fill="#000080"/>
<rect x="502" y="323" width="3" height="2" fill="#000080"/>
<rect x="506" y="319" width="3" height="2" fill="#000080"/>
<rect x="510" y="318" width="3" height="3" fill="#000080"/>
<rect x="514" y="318" width="3" height="3" fill="#000080"/>
<rect x="518" y="317" width="3" height="4" fill="#000080"/>
<rect x="522" y="320" width="3" height="1" fill="#000080"/>
<rect x="526" y="323" width="3" height="2" fill="#000080"/>
<rect x="530" y="323" width="3" height="2" fill="#000080"/>
<rect x="534" y="323" width="3" height="1" fill="#000080"/>
<rect x="538" y="323" width="3" height="2" fill="#000080"/>
<rect x="542" y="319" width="3" height="2" fill="#000080"/>
<rect x="546" y="317" width="3" height="4" fill="#000080"/>
<rect x="550" y="313" width="3" height="8" fill="#000080"/>
<rect x="554" y="311" width="3" height="10" fill="#000080"/>
<rect x="558" y="307" width="3" height="14" fill="#000080"/>
<rect x="562" y="309" width="3" height="12" fill="#000080"/>
<rect x="566" y="311" width="3" height="10" fill="#000080"/>
<rect x="570" y="312" width="3" height="9" fill="#000080"/>
<rect x="574" y="311" width="3" height="10" fill="#000080"/>
<rect x="578" y="309" width="3" height="12" fill="#000080"/>
<rect x="582" y="311" width="3" height="10" fill="#000080"/>
<rect x="586" y="312" width="3" height="9" fill="#000080"/>
<rect x="590" y="311" width="3" height="10" fill="#000080"/>
<rect x="594" y="307" width="3" height="14" fill="#000080"/>
<rect x="598" y="306" width="3" height="15" fill="#000080"/>
<rect x="602" y="303" width="3" height="18" fill="#000080"/>
<rect x="606" y="308" width="3" height="13" fill="#000080"/>
<rect x="610" y="309" width="3" height="12" fill="#000080"/>
<rect x="614" y="310" width="3" height="11" fill="#000080"/>
<rect x="618" y="312" width="3" height="9" fill="#000080"/>
<rect x="622" y="314" width="3" height="7" fill="#000080"/>
<rect x="626" y="315" width="3" height="6" fill="#000080"/>
<rect x="3" y="321" width="653" height="2" fill="#000"/>
<polyline points="3.5,321 11.5,321 14.5,323.5 22.5,326.5 28.5,328 35.5,327.1 42.5,325.5 50.5,324.5 60.5,325 70.5,324.5 77.5,322.5 80.5,320.5 86.5,316.8 91.5,314.5 100.5,312.5 105.5,312.9 112.5,313.8 118.5,314.5 125.5,316.8 131.5,318.5 137.5,319.3 143.5,317.9 150.5,315.9 160.5,314.7 167.5,316 175.5,317.5 183.5,320.2 190.5,323 200.5,323.9 205.5,321.5 210.5,317.9 215.5,315.9 220.5,315.6 225.5,317.5 229.5,319.1 235.5,319.5 240.5,321.5 245.5,324.8 250.5,328.2 257.5,331.6 263.5,335.1 268.5,336.9 272.5,337.3 277.5,336.2 282.5,332.8 287.5,328.5 292.5,325.5 297.5,323.5 303.5,322.5 310.5,322.5 320.5,324 330.5,325 340.5,323.9 347.5,322 355.5,320.5 365.5,320 375.5,319.1 385.5,319.8 395.5,320.2 405.5,319.5 412.5,317.9 418.5,315.6 424.5,313.4 430.5,311.1 434.5,310.4 440.5,311.5 445.5,313.5 450.5,316.5 455.5,319.5 460.5,320.5 470.5,320.5 480.5,321 487.5,323.5 492.5,325.9 498.5,328.2 503.5,327.8 508.5,325.9 513.5,323.5 518.5,321 522.5,319.5 528.5,320 533.5,321.5 538.5,323.2 547.5,323.2 551.5,321.4 556.5,316.8 560.5,314 565.5,311.8 570.5,310.5 580.5,310.5 586.5,311.5 592.5,311.5 597.5,310.5 602.5,309 607.5,308.1 615.5,308.1 620.5,309.2 624.5,311.5 628.5,313.5" fill="none" stroke="#ff0000" stroke-width="2" stroke-linejoin="round"/>
<polyline points="3.5,353.5 7.5,356.1 12.5,354.5 20.5,351.5 30.5,348.5 36.5,347 40.5,347 44.5,349.5 52.5,352 62.5,354.5 68.5,357.5 75.5,359 80.5,360.5 84.5,362.5 90.5,363.5 96.5,366.5 103.5,368.5 108.5,370.5 112.5,372 118.5,369.5 125.5,373.5 131.5,371.5 136.5,374.5 143.5,371 150.5,371 157.5,372.5 160.5,373 163.5,373 168.5,367.1 173.5,365.9 176.5,367.1 183.5,363.6 190.5,361.4 197.5,359.1 204.5,356.8 211.5,356.1 216.5,353.4 219.5,352 223.5,354.5 228.5,354.5 235.5,353.8 239.5,348.8 244.5,349.9 252.5,348.8 259.5,352.5 263.5,350.5 269.5,347.4 274.5,348.5 281.5,347.9 286.5,347.9 291.5,346.5 294.5,352.3 300.5,354.5 307.5,356.8 313.5,359.1 317.5,362.5 320.5,364.8 326.5,367.5 333.5,369.5 340.5,371.5 345.5,373.9 351.5,375.5 357.5,374.5 363.5,375.5 368.5,373.5 375.5,372.5 383.5,371.5 390.5,368.8 395.5,368.8 400.5,366.5 406.5,365.9 410.5,366.5 415.5,365.9 420.5,368 425.5,367.1 430.5,365 434.5,365.9 438.5,364.8 443.5,367.1 451.5,369.3 457.5,367.5 463.5,365.2 467.5,365.9 473.5,364.5 480.5,362.5 485.5,360.9 490.5,359.5 497.5,357.5 503.5,356 507.5,354.7 512.5,357 516.5,359.5 520.5,361.4 526.5,360.5 531.5,363.5 535.5,365.5 540.5,369.5 546.5,370.5 551.5,372 555.5,373 560.5,371 564.5,372.3 570.5,371 575.5,370 580.5,372 591.5,372 595.5,366.5 600.5,368.8 604.5,367.5 611.5,362 616.5,366.1 620.5,364.8 624.5,363 627.5,363.9" fill="none" stroke="#1e90ff" stroke-width="1"/>
<polyline points="3.5,397.1 10.5,397.8 14.5,398.5 18.5,398 22.5,399.5 27.5,400 32.5,398 36.5,396.2 40.5,397.5 46.5,398.9 53.5,397.5 58.5,398.5 63.5,398 67.5,399.5 72.5,397.5 78.5,395.9 85.5,394.5 90.5,395.2 95.5,394.3 99.5,393 103.5,394.3 108.5,393.2 113.5,392.7 117.5,393.9 120.5,395.5 124.5,394.3 130.5,394.5 137.5,393.9 143.5,391.8 148.5,393.5 153.5,393 160.5,392 163.5,392 167.5,394.8 171.5,393.5 175.5,392.7 180.5,393.9 185.5,397.1 191.5,398.2 195.5,396.5 199.5,393.9 203.5,392.7 208.5,393.2 214.5,394.8 220.5,396.5 225.5,394.8 229.5,395.2 234.5,393.5 238.5,398 244.5,399.1 250.5,400 256.5,401.5 262.5,401.9 270.5,401.6 276.5,399.8 283.5,398.2 289.5,399.5 294.5,398 298.5,398.7 304.5,397.1 310.5,399.1 320.5,399.8 326.5,399.1 331.5,398 335.5,399.4 339.5,398.2 348.5,397.5 355.5,395.9 360.5,395.9 364.5,397.5 368.5,395.9 375.5,395.5 383.5,395.5 387.5,397.5 392.5,395.2 396.5,395.5 399.5,396.8 403.5,394.8 406.5,393.9 409.5,394.5 413.5,393 418.5,392 423.5,392 427.5,390.2 433.5,390 437.5,392 440.5,393.5 444.5,392.7 448.5,394.5 452.5,394.5 455.5,393.5 459.5,395.2 463.5,393.9 468.5,393.9 474.5,395.5 478.5,398 480.5,398.5 483.5,399.8 488.5,398.2 492.5,397.5 497.5,399.1 502.5,397.5 507.5,395.5 512.5,396.4 516.5,395.5 520.5,395.2 526.5,397.5 532.5,398 539.5,398 543.5,395.9 548.5,394.8 552.5,393 556.5,392 560.5,391.5 564.5,393 568.5,393 573.5,391.5 578.5,390.9 582.5,391.8 588.5,391.8 592.5,390.2 597.5,388.8 603.5,387.9 605.5,389.5 608.5,393 612.5,391.4 615.5,390.9 619.5,392 623.5,392.7 627.5,391.4" fill="none" stroke="#ff0000" stroke-width="1"/>
<polyline points="3.5,433.5 8.5,432.5 12.5,435.5 20.5,434.5 25.5,438.2 30.5,437.5 35.5,434.8 42.5,432 48.5,434.8 55.5,437.1 62.5,438.2 67.5,435.5 72.5,437.1 78.5,434.5 84.5,432.5 90.5,430.9 97.5,431.4 103.5,430.5 108.5,431.5 113.5,429.8 118.5,432 123.5,434.1 128.5,432 133.5,430.9 140.5,429.1 146.5,430.5 152.5,429.5 160.5,429.5 160.5,432 165.5,434.3 170.5,435.9 176.5,433.6 182.5,435.9 188.5,433.2 195.5,431.6 201.5,430.2 207.5,431.6 213.5,433.6 218.5,435.2 225.5,435.9 232.5,436.6 240.5,437.1 247.5,437.8 252.5,439.5 258.5,441 264.5,442.1 269.5,441.5 273.5,439 277.5,436.5 282.5,437.1 288.5,437.8 293.5,436.4 297.5,435.5 303.5,437.5 310.5,438.7 315.5,438.2 320.5,441 323.5,442.1 327.5,436.5 332.5,437.1 337.5,438.7 343.5,437.1 350.5,435.9 355.5,432 360.5,433.6 365.5,436.4 372.5,435.9 380.5,437.1 386.5,438.7 391.5,435.9 396.5,434.8 401.5,433.6 406.5,432 412.5,430.2 418.5,429.1 425.5,429.1 432.5,428.6 436.5,430.9 440.5,433.6 445.5,435.9 449.5,437.8 453.5,435.9 458.5,434.1 463.5,434.8 468.5,433.2 473.5,434.1 480.5,437.5 484.5,437.1 488.5,434.1 493.5,432 498.5,433.6 503.5,432 507.5,430.9 512.5,432.5 517.5,433.6 521.5,432 526.5,434.1 531.5,435.9 536.5,435.9 541.5,437.1 545.5,434.1 549.5,432 553.5,429.1 558.5,426.8 562.5,427.2 566.5,430.5 570.5,433.5 574.5,430.9 578.5,427.2 583.5,427.9 587.5,430.9 591.5,427.2 596.5,424.5 600.5,425.2 604.5,425 607.5,427.2 611.5,429.8 615.5,429.1 619.5,429.5 623.5,430.2 627.5,432" fill="none" stroke="#008000" stroke-width="1" stroke-dasharray="3 3"/>
<polyline points="3.5,432.5 8.5,430.2 12.5,429.1 18.5,432 23.5,433.2 28.5,432 32.5,433.6 38.5,434.1 43.5,433 48.5,432 55.5,433.6 62.5,433 68.5,434.1 75.5,435.5 82.5,438.2 88.5,439.5 95.5,441 103.5,441.5 110.5,441 116.5,441 122.5,438.5 128.5,438.2 135.5,439.5 142.5,441 150.5,440 160.5,440 166.5,438.7 172.5,439.4 178.5,441 183.5,438.2 189.5,434.1 195.5,435.5 200.5,437.5 206.5,439.4 212.5,438.7 217.5,437.1 222.5,437.5 228.5,438.7 234.5,439.4 240.5,438.2 245.5,437.1 250.5,436.4 255.5,434.5 259.5,432 262.5,430.9 266.5,432 270.5,433.2 275.5,434.8 280.5,435.9 285.5,437.1 288.5,435 291.5,433.6 295.5,435.2 300.5,436.6 306.5,435.9 312.5,435.9 320.5,435.2 326.5,433.6 332.5,432 336.5,434.1 342.5,435.9 350.5,436.4 357.5,437.1 365.5,437.1 372.5,437.5 380.5,437.1 388.5,437.5 395.5,437.1 400.5,435.9 405.5,435.9 410.5,437.5 416.5,439 421.5,440.5 426.5,441.6 432.5,442.1 436.5,442.8 441.5,439.4 446.5,437.8 452.5,437.1 458.5,437.1 464.5,437.5 470.5,439.4 475.5,438 480.5,434.5 484.5,432 488.5,433.2 493.5,434.8 497.5,432 502.5,434.1 507.5,435.9 511.5,437.1 515.5,434.8 520.5,433.6 524.5,434.1 528.5,433.2 532.5,435.9 537.5,437.1 542.5,438.2 547.5,439.4 552.5,441 557.5,442.1 563.5,442.1 568.5,440.5 573.5,440 578.5,441 584.5,442.1 590.5,442.8 596.5,443.5 602.5,442.8 607.5,441 612.5,440.5 617.5,441.6 622.5,440.5 627.5,439.4" fill="none" stroke="#ff0000" stroke-width="1" stroke-dasharray="3 3"/>
<polyline points="3.5,437.1 14.5,437.5 20.5,437.1 25.5,435.9 32.5,435.5 38.5,436.5 45.5,437.8 55.5,438.2 65.5,437.1 72.5,437.8 80.5,438.2 86.5,436.5 92.5,434.5 97.5,432.5 103.5,431.1 110.5,430.2 115.5,429.1 125.5,429.1 130.5,430.2 137.5,429.1 143.5,427.9 150.5,429.1 160.5,430 163.5,427.5 170.5,428.5 176.5,429.1 183.5,430.2 190.5,432.5 197.5,433.6 204.5,433.5 208.5,432 213.5,432 218.5,433.6 224.5,435.5 230.5,435.9 236.5,435.9 240.5,437.1 245.5,438 250.5,437.8 255.5,435.9 260.5,433.6 264.5,432 268.5,430.9 272.5,430.7 276.5,431.8 281.5,434.8 285.5,436.5 290.5,437.3 296.5,437.8 302.5,438.7 308.5,438.7 314.5,437.8 320.5,436.8 326.5,435.5 335.5,434.8 342.5,436.4 350.5,437.5 360.5,437.8 370.5,438.5 380.5,439.5 390.5,439.5 400.5,439.5 407.5,439.5 412.5,437.5 418.5,434.8 424.5,432.5 430.5,430.2 435.5,427.9 440.5,427.7 445.5,429.5 451.5,432 457.5,433.6 464.5,435.2 470.5,434.8 476.5,435.5 480.5,437.1 485.5,435.9 490.5,437.5 500.5,438.2 506.5,437.1 512.5,438.2 518.5,437.8 526.5,439.5 533.5,440 539.5,441 543.5,441 547.5,438.7 552.5,435.9 556.5,433.6 560.5,430.9 565.5,429.1 572.5,428.4 578.5,426.1 584.5,424.7 590.5,422.7 596.5,420.5 602.5,418.1 605.5,417.9 608.5,418.8 615.5,418.8 620.5,419 623.5,420.5 627.5,421.1" fill="none" stroke="#000" stroke-width="1"/>
<rect x="2" y="2" width="653" height="1" fill="#000"/>
<rect x="2" y="298" width="653" height="1" fill="#000"/>
<rect x="2" y="2" width="1" height="297" fill="#000"/>
<rect x="654" y="2" width="1" height="297" fill="#000"/>
<rect x="2" y="300" width="653" height="1" fill="#000"/>
<rect x="2" y="341" width="653" height="1" fill="#000"/>
<rect x="2" y="300" width="1" height="42" fill="#000"/>
<rect x="654" y="300" width="1" height="42" fill="#000"/>
<rect x="2" y="343" width="653" height="1" fill="#000"/>
<rect x="2" y="377" width="653" height="1" fill="#000"/>
<rect x="2" y="343" width="1" height="35" fill="#000"/>
<rect x="654" y="343" width="1" height="35" fill="#000"/>
<rect x="2" y="379" width="653" height="1" fill="#000"/>
<rect x="2" y="413" width="653" height="1" fill="#000"/>
<rect x="2" y="379" width="1" height="35" fill="#000"/>
<rect x="654" y="379" width="1" height="35" fill="#000"/>
<rect x="2" y="415" width="653" height="1" fill="#000"/>
<rect x="2" y="445" width="653" height="1" fill="#000"/>
<rect x="2" y="415" width="1" height="31" fill="#000"/>
<rect x="654" y="415" width="1" height="31" fill="#000"/>
<rect x="2" y="447" width="653" height="1" fill="#000"/>
<rect x="2" y="479" width="653" height="1" fill="#000"/>
<rect x="2" y="447" width="1" height="33" fill="#000"/>
<rect x="654" y="447" width="1" height="33" fill="#000"/>
<rect x="3" y="21" width="653" height="3" fill="#ff0000"/>
<rect x="3" y="63" width="653" height="3" fill="#ff0000"/>
<rect x="3" y="147" width="653" height="3" fill="#ff0000"/>
<rect x="3" y="230" width="653" height="3" fill="#ff0000"/>
<rect x="3" y="272" width="653" height="2" fill="#ff4500"/>
<rect x="2" y="22" width="1" height="1" fill="#ff0000"/>
<rect x="2" y="64" width="1" height="1" fill="#ff0000"/>
<rect x="2" y="148" width="1" height="1" fill="#ff0000"/>
<rect x="2" y="231" width="1" height="1" fill="#ff0000"/>
<polyline points="285.5,297.9 291.9,296.9 307.5,291.5 324.8,285.5 336.2,282.4 350.5,278.6 356.2,277.1 364.5,274.2 384.5,267.5 413.4,257.5 441.9,246.2 460.5,240.5 484.8,233.9 500.5,229.1 517.5,224.2 546.2,219.5 566.2,213.9 591.9,206.2 627.5,197.5" fill="none" stroke="#008000" stroke-width="1"/>
<polyline points="3.5,261.9 21.9,261.9 29.1,263.9 49.1,263.4 61.9,260.5 69.1,255.4 79.1,249.1 94.8,241.9 109.1,239.1 129.1,235.4 143.4,232.5 160.5,227.5 171.9,223.4 188.5,218.6 199.9,215.5 238.5,196.9 245.5,194 253.5,191.9 257.6,190.9 264.8,189.8 281.2,188.8 298.4,188.8 310.5,189.8 321.9,191.5 336.2,193.8 350.5,196.6 356.5,198.4 366.2,199.8 380.5,201.9 391.1,203.4 400.5,204.5 411.1,205.9 419.5,206.1 426.5,205.5 433.9,204.5 443.5,202.8 452.5,200.5 462.5,196.5 472.5,192 486.8,188.4 501.1,185.5 515.4,179.8 529.5,174.8 543.9,171.2 558.2,164.1 572.5,156.2 591.2,145.5 627.5,120.9" fill="none" stroke="#ff0000" stroke-width="1"/>
<polyline points="3.5,209.8 135.5,256.5" fill="none" stroke="#0000ff" stroke-width="1"/>
<polyline points="67.5,280.5 287.5,160.5" fill="none" stroke="#0000ff" stroke-width="1"/>
<polyline points="237.1,141.2 279.9,249.8" fill="none" stroke="#0000ff" stroke-width="1"/>
<polyline points="263.5,210.1 431.5,175.5" fill="none" stroke="#0000ff" stroke-width="1"/>
<polyline points="259.8,265.9 431.5,212.8" fill="none" stroke="#0000ff" stroke-width="1"/>
<polyline points="268.4,263.4 329.5,223.5" fill="none" stroke="#0000ff" stroke-width="1"/>
<polyline points="463.5,116.5 572.5,161.5" fill="none" stroke="#0000ff" stroke-width="1"/>
<rect x="3" y="207" width="1" height="34" fill="#000"/>
<rect x="2" y="207" width="3" height="31" fill="#000"/>
<rect x="7" y="243" width="1" height="15" fill="#000"/>
<rect x="6" y="243" width="3" height="3" fill="#000"/>
<rect x="7" y="244" width="1" height="1" fill="#fff"/>
<rect x="11" y="248" width="1" height="35" fill="#000"/>
<rect x="10" y="250" width="3" height="15" fill="#000"/>
<rect x="11" y="251" width="1" height="13" fill="#fff"/>
<rect x="15" y="245" width="1" height="31" fill="#000"/>
<rect x="14" y="246" width="3" height="15" fill="#000"/>
<rect x="19" y="242" width="1" height="17" fill="#000"/>
<rect x="18" y="244" width="3" height="11" fill="#000"/>
<rect x="19" y="245" width="1" height="9" fill="#fff"/>
<rect x="23" y="239" width="1" height="25" fill="#000"/>
<rect x="22" y="244" width="3" height="16" fill="#000"/>
<rect x="27" y="264" width="1" height="28" fill="#000"/>
<rect x="26" y="265" width="3" height="9" fill="#000"/>
<rect x="31" y="258" width="1" height="18" fill="#000"/>
<rect x="30" y="259" width="3" height="11" fill="#000"/>
<rect x="31" y="260" width="1" height="9" fill="#fff"/>
<rect x="35" y="227" width="1" height="33" fill="#000"/>
<rect x="34" y="234" width="3" height="25" fill="#000"/>
<rect x="35" y="235" width="1" height="23" fill="#fff"/>
<rect x="39" y="235" width="1" height="18" fill="#000"/>
<rect x="38" y="239" width="3" height="1" fill="#000"/>
<rect x="43" y="232" width="1" height="31" fill="#000"/>
<rect x="42" y="248" width="3" height="3" fill="#000"/>
<rect x="47" y="259" width="1" height="17" fill="#000"/>
<rect x="46" y="268" width="3" height="3" fill="#000"/>
<rect x="51" y="256" width="1" height="15" fill="#000"/>
<rect x="50" y="262" width="3" height="6" fill="#000"/>
<rect x="55" y="258" width="1" height="25" fill="#000"/>
<rect x="54" y="261" width="3" height="10" fill="#000"/>
<rect x="55" y="262" width="1" height="8" fill="#fff"/>
<rect x="59" y="259" width="1" height="14" fill="#000"/>
<rect x="58" y="262" width="3" height="2" fill="#000"/>
<rect x="63" y="255" width="1" height="10" fill="#000"/>
<rect x="62" y="258" width="3" height="4" fill="#000"/>
<rect x="63" y="259" width="1" height="2" fill="#fff"/>
<rect x="67" y="262" width="1" height="19" fill="#000"/>
<rect x="66" y="263" width="3" height="15" fill="#000"/>
<rect x="71" y="247" width="1" height="17" fill="#000"/>
<rect x="70" y="247" width="3" height="16" fill="#000"/>
<rect x="71" y="248" width="1" height="14" fill="#fff"/>
<rect x="75" y="246" width="1" height="10" fill="#000"/>
<rect x="74" y="246" width="3" height="7" fill="#000"/>
<rect x="79" y="223" width="1" height="23" fill="#000"/>
<rect x="78" y="226" width="3" height="20" fill="#000"/>
<rect x="79" y="227" width="1" height="18" fill="#fff"/>
<rect x="83" y="222" width="1" height="11" fill="#000"/>
<rect x="82" y="222" width="3" height="4" fill="#000"/>
<rect x="87" y="206" width="1" height="16" fill="#000"/>
<rect x="86" y="213" width="3" height="6" fill="#000"/>
<rect x="87" y="214" width="1" height="4" fill="#fff"/>
<rect x="91" y="205" width="1" height="19" fill="#000"/>
<rect x="90" y="213" width="3" height="7" fill="#000"/>
<rect x="95" y="212" width="1" height="12" fill="#000"/>
<rect x="94" y="215" width="3" height="4" fill="#000"/>
<rect x="95" y="216" width="1" height="2" fill="#fff"/>
<rect x="99" y="191" width="1" height="18" fill="#000"/>
<rect x="98" y="195" width="3" height="14" fill="#000"/>
<rect x="99" y="196" width="1" height="12" fill="#fff"/>
<rect x="103" y="195" width="1" height="19" fill="#000"/>
<rect x="102" y="199" width="3" height="5" fill="#000"/>
<rect x="107" y="200" width="1" height="12" fill="#000"/>
<rect x="106" y="204" width="3" height="1" fill="#000"/>
<rect x="111" y="194" width="1" height="7" fill="#000"/>
<rect x="110" y="194" width="3" height="7" fill="#000"/>
<rect x="111" y="195" width="1" height="5" fill="#fff"/>
<rect x="115" y="188" width="1" height="13" fill="#000"/>
<rect x="114" y="190" width="3" height="3" fill="#000"/>
<rect x="115" y="191" width="1" height="1" fill="#fff"/>
<rect x="119" y="185" width="1" height="28" fill="#000"/>
<rect x="118" y="187" width="3" height="24" fill="#000"/>
<rect x="123" y="205" width="1" height="10" fill="#000"/>
<rect x="122" y="206" width="3" height="4" fill="#000"/>
<rect x="123" y="207" width="1" height="2" fill="#fff"/>
<rect x="127" y="198" width="1" height="14" fill="#000"/>
<rect x="126" y="198" width="3" height="10" fill="#000"/>
<rect x="127" y="199" width="1" height="8" fill="#fff"/>
<rect x="131" y="185" width="1" height="23" fill="#000"/>
<rect x="130" y="192" width="3" height="11" fill="#000"/>
<rect x="135" y="198" width="1" height="12" fill="#000"/>
<rect x="134" y="201" width="3" height="3" fill="#000"/>
<rect x="139" y="186" width="1" height="22" fill="#000"/>
<rect x="138" y="187" width="3" height="12" fill="#000"/>
<rect x="139" y="188" width="1" height="10" fill="#fff"/>
<rect x="143" y="157" width="1" height="20" fill="#000"/>
<rect x="142" y="164" width="3" height="12" fill="#000"/>
<rect x="143" y="165" width="1" height="10" fill="#fff"/>
<rect x="147" y="158" width="1" height="17" fill="#000"/>
<rect x="146" y="159" width="3" height="11" fill="#000"/>
<rect x="151" y="172" width="1" height="13" fill="#000"/>
<rect x="150" y="174" width="3" height="4" fill="#000"/>
<rect x="155" y="160" width="1" height="16" fill="#000"/>
<rect x="154" y="168" width="3" height="3" fill="#000"/>
<rect x="159" y="161" width="1" height="12" fill="#000"/>
<rect x="158" y="161" width="3" height="3" fill="#000"/>
<rect x="159" y="162" width="1" height="1" fill="#fff"/>
<rect x="163" y="163" width="1" height="12" fill="#000"/>
<rect x="162" y="164" width="3" height="4" fill="#000"/>
<rect x="163" y="165" width="1" height="2" fill="#fff"/>
<rect x="167" y="153" width="1" height="37" fill="#000"/>
<rect x="166" y="154" width="3" height="34" fill="#000"/>
<rect x="171" y="165" width="1" height="24" fill="#000"/>
<rect x="170" y="168" width="3" height="20" fill="#000"/>
<rect x="171" y="169" width="1" height="18" fill="#fff"/>
<rect x="175" y="155" width="1" height="19" fill="#000"/>
<rect x="174" y="155" width="3" height="16" fill="#000"/>
<rect x="175" y="156" width="1" height="14" fill="#fff"/>
<rect x="179" y="152" width="1" height="21" fill="#000"/>
<rect x="178" y="154" width="3" height="15" fill="#000"/>
<rect x="183" y="175" width="1" height="29" fill="#000"/>
<rect x="182" y="175" width="3" height="21" fill="#000"/>
<rect x="187" y="198" width="1" height="16" fill="#000"/>
<rect x="186" y="198" width="3" height="11" fill="#000"/>
<rect x="187" y="199" width="1" height="9" fill="#fff"/>
<rect x="191" y="189" width="1" height="19" fill="#000"/>
<rect x="190" y="191" width="3" height="14" fill="#000"/>
<rect x="195" y="176" width="1" height="26" fill="#000"/>
<rect x="194" y="176" width="3" height="23" fill="#000"/>
<rect x="195" y="177" width="1" height="21" fill="#fff"/>
<rect x="199" y="146" width="1" height="33" fill="#000"/>
<rect x="198" y="154" width="3" height="21" fill="#000"/>
<rect x="199" y="155" width="1" height="19" fill="#fff"/>
<rect x="203" y="136" width="1" height="28" fill="#000"/>
<rect x="202" y="138" width="3" height="16" fill="#000"/>
<rect x="203" y="139" width="1" height="14" fill="#fff"/>
<rect x="207" y="134" width="1" height="19" fill="#000"/>
<rect x="206" y="138" width="3" height="12" fill="#000"/>
<rect x="211" y="137" width="1" height="14" fill="#000"/>
<rect x="210" y="142" width="3" height="2" fill="#000"/>
<rect x="215" y="136" width="1" height="25" fill="#000"/>
<rect x="214" y="141" width="3" height="9" fill="#000"/>
<rect x="219" y="158" width="1" height="21" fill="#000"/>
<rect x="218" y="158" width="3" height="12" fill="#000"/>
<rect x="223" y="162" width="1" height="18" fill="#000"/>
<rect x="222" y="163" width="3" height="5" fill="#000"/>
<rect x="223" y="164" width="1" height="3" fill="#fff"/>
<rect x="227" y="145" width="1" height="24" fill="#000"/>
<rect x="226" y="151" width="3" height="10" fill="#000"/>
<rect x="227" y="152" width="1" height="8" fill="#fff"/>
<rect x="231" y="148" width="1" height="21" fill="#000"/>
<rect x="230" y="155" width="3" height="4" fill="#000"/>
<rect x="231" y="156" width="1" height="2" fill="#fff"/>
<rect x="235" y="138" width="1" height="23" fill="#000"/>
<rect x="234" y="139" width="3" height="13" fill="#000"/>
<rect x="235" y="140" width="1" height="11" fill="#fff"/>
<rect x="239" y="151" width="1" height="52" fill="#000"/>
<rect x="238" y="152" width="3" height="46" fill="#000"/>
<rect x="243" y="181" width="1" height="13" fill="#000"/>
<rect x="242" y="187" width="3" height="5" fill="#000"/>
<rect x="243" y="188" width="1" height="3" fill="#fff"/>
<rect x="247" y="181" width="1" height="24" fill="#000"/>
<rect x="246" y="186" width="3" height="6" fill="#000"/>
<rect x="247" y="187" width="1" height="4" fill="#fff"/>
<rect x="251" y="178" width="1" height="33" fill="#000"/>
<rect x="250" y="183" width="3" height="26" fill="#000"/>
<rect x="255" y="199" width="1" height="21" fill="#000"/>
<rect x="254" y="203" width="3" height="17" fill="#000"/>
<rect x="259" y="216" width="1" height="21" fill="#000"/>
<rect x="258" y="217" width="3" height="18" fill="#000"/>
<rect x="263" y="219" width="1" height="36" fill="#000"/>
<rect x="262" y="229" width="3" height="16" fill="#000"/>
<rect x="267" y="239" width="1" height="23" fill="#000"/>
<rect x="266" y="241" width="3" height="2" fill="#000"/>
<rect x="271" y="227" width="1" height="17" fill="#000"/>
<rect x="270" y="236" width="3" height="2" fill="#000"/>
<rect x="275" y="217" width="1" height="32" fill="#000"/>
<rect x="274" y="219" width="3" height="19" fill="#000"/>
<rect x="275" y="220" width="1" height="17" fill="#fff"/>
<rect x="279" y="207" width="1" height="23" fill="#000"/>
<rect x="278" y="213" width="3" height="17" fill="#000"/>
<rect x="283" y="204" width="1" height="18" fill="#000"/>
<rect x="282" y="205" width="3" height="17" fill="#000"/>
<rect x="283" y="206" width="1" height="15" fill="#fff"/>
<rect x="287" y="203" width="1" height="19" fill="#000"/>
<rect x="286" y="204" width="3" height="13" fill="#000"/>
<rect x="291" y="220" width="1" height="28" fill="#000"/>
<rect x="290" y="224" width="3" height="2" fill="#000"/>
<rect x="295" y="204" width="1" height="21" fill="#000"/>
<rect x="294" y="208" width="3" height="17" fill="#000"/>
<rect x="295" y="209" width="1" height="15" fill="#fff"/>
<rect x="299" y="202" width="1" height="16" fill="#000"/>
<rect x="298" y="204" width="3" height="13" fill="#000"/>
<rect x="303" y="204" width="1" height="11" fill="#000"/>
<rect x="302" y="204" width="3" height="7" fill="#000"/>
<rect x="303" y="205" width="1" height="5" fill="#fff"/>
<rect x="307" y="199" width="1" height="27" fill="#000"/>
<rect x="306" y="199" width="3" height="25" fill="#000"/>
<rect x="311" y="217" width="1" height="14" fill="#000"/>
<rect x="310" y="217" width="3" height="10" fill="#000"/>
<rect x="315" y="218" width="1" height="11" fill="#000"/>
<rect x="314" y="223" width="3" height="5" fill="#000"/>
<rect x="319" y="222" width="1" height="13" fill="#000"/>
<rect x="318" y="223" width="3" height="8" fill="#000"/>
<rect x="323" y="229" width="1" height="14" fill="#000"/>
<rect x="322" y="230" width="3" height="1" fill="#000"/>
<rect x="327" y="218" width="1" height="10" fill="#000"/>
<rect x="326" y="223" width="3" height="2" fill="#000"/>
<rect x="331" y="219" width="1" height="24" fill="#000"/>
<rect x="330" y="219" width="3" height="11" fill="#000"/>
<rect x="331" y="220" width="1" height="9" fill="#fff"/>
<rect x="335" y="220" width="1" height="16" fill="#000"/>
<rect x="334" y="220" width="3" height="13" fill="#000"/>
<rect x="339" y="218" width="1" height="21" fill="#000"/>
<rect x="338" y="218" width="3" height="16" fill="#000"/>
<rect x="339" y="219" width="1" height="14" fill="#fff"/>
<rect x="343" y="211" width="1" height="13" fill="#000"/>
<rect x="342" y="212" width="3" height="7" fill="#000"/>
<rect x="347" y="219" width="1" height="12" fill="#000"/>
<rect x="346" y="220" width="3" height="3" fill="#000"/>
<rect x="347" y="221" width="1" height="1" fill="#fff"/>
<rect x="351" y="208" width="1" height="20" fill="#000"/>
<rect x="350" y="210" width="3" height="18" fill="#000"/>
<rect x="351" y="211" width="1" height="16" fill="#fff"/>
<rect x="355" y="190" width="1" height="18" fill="#000"/>
<rect x="354" y="205" width="3" height="3" fill="#000"/>
<rect x="355" y="206" width="1" height="1" fill="#fff"/>
<rect x="359" y="193" width="1" height="18" fill="#000"/>
<rect x="358" y="198" width="3" height="8" fill="#000"/>
<rect x="363" y="199" width="1" height="18" fill="#000"/>
<rect x="362" y="206" width="3" height="10" fill="#000"/>
<rect x="367" y="199" width="1" height="22" fill="#000"/>
<rect x="366" y="202" width="3" height="9" fill="#000"/>
<rect x="367" y="203" width="1" height="7" fill="#fff"/>
<rect x="371" y="194" width="1" height="17" fill="#000"/>
<rect x="370" y="199" width="3" height="6" fill="#000"/>
<rect x="371" y="200" width="1" height="4" fill="#fff"/>
<rect x="375" y="191" width="1" height="12" fill="#000"/>
<rect x="374" y="196" width="3" height="5" fill="#000"/>
<rect x="379" y="196" width="1" height="17" fill="#000"/>
<rect x="378" y="201" width="3" height="6" fill="#000"/>
<rect x="379" y="202" width="1" height="4" fill="#fff"/>
<rect x="383" y="199" width="1" height="16" fill="#000"/>
<rect x="382" y="200" width="3" height="12" fill="#000"/>
<rect x="383" y="201" width="1" height="10" fill="#fff"/>
<rect x="387" y="210" width="1" height="17" fill="#000"/>
<rect x="386" y="210" width="3" height="4" fill="#000"/>
<rect x="391" y="186" width="1" height="20" fill="#000"/>
<rect x="390" y="189" width="3" height="16" fill="#000"/>
<rect x="391" y="190" width="1" height="14" fill="#fff"/>
<rect x="395" y="185" width="1" height="14" fill="#000"/>
<rect x="394" y="185" width="3" height="11" fill="#000"/>
<rect x="399" y="198" width="1" height="26" fill="#000"/>
<rect x="398" y="201" width="3" height="5" fill="#000"/>
<rect x="399" y="202" width="1" height="3" fill="#fff"/>
<rect x="403" y="181" width="1" height="13" fill="#000"/>
<rect x="402" y="181" width="3" height="13" fill="#000"/>
<rect x="403" y="182" width="1" height="11" fill="#fff"/>
<rect x="407" y="175" width="1" height="13" fill="#000"/>
<rect x="406" y="181" width="3" height="4" fill="#000"/>
<rect x="411" y="161" width="1" height="24" fill="#000"/>
<rect x="410" y="165" width="3" height="15" fill="#000"/>
<rect x="411" y="166" width="1" height="13" fill="#fff"/>
<rect x="415" y="150" width="1" height="19" fill="#000"/>
<rect x="414" y="154" width="3" height="11" fill="#000"/>
<rect x="415" y="155" width="1" height="9" fill="#fff"/>
<rect x="419" y="147" width="1" height="12" fill="#000"/>
<rect x="418" y="150" width="3" height="6" fill="#000"/>
<rect x="423" y="142" width="1" height="17" fill="#000"/>
<rect x="422" y="145" width="3" height="12" fill="#000"/>
<rect x="427" y="128" width="1" height="26" fill="#000"/>
<rect x="426" y="130" width="3" height="23" fill="#000"/>
<rect x="427" y="131" width="1" height="21" fill="#fff"/>
<rect x="431" y="122" width="1" height="19" fill="#000"/>
<rect x="430" y="126" width="3" height="7" fill="#000"/>
<rect x="435" y="128" width="1" height="13" fill="#000"/>
<rect x="434" y="132" width="3" height="4" fill="#000"/>
<rect x="439" y="132" width="1" height="22" fill="#000"/>
<rect x="438" y="134" width="3" height="20" fill="#000"/>
<rect x="443" y="138" width="1" height="13" fill="#000"/>
<rect x="442" y="145" width="3" height="3" fill="#000"/>
<rect x="443" y="146" width="1" height="1" fill="#fff"/>
<rect x="447" y="154" width="1" height="10" fill="#000"/>
<rect x="446" y="155" width="3" height="2" fill="#000"/>
<rect x="451" y="152" width="1" height="14" fill="#000"/>
<rect x="450" y="157" width="3" height="5" fill="#000"/>
<rect x="451" y="158" width="1" height="3" fill="#fff"/>
<rect x="455" y="129" width="1" height="25" fill="#000"/>
<rect x="454" y="145" width="3" height="5" fill="#000"/>
<rect x="455" y="146" width="1" height="3" fill="#fff"/>
<rect x="459" y="140" width="1" height="25" fill="#000"/>
<rect x="458" y="141" width="3" height="20" fill="#000"/>
<rect x="463" y="135" width="1" height="14" fill="#000"/>
<rect x="462" y="140" width="3" height="5" fill="#000"/>
<rect x="463" y="141" width="1" height="3" fill="#fff"/>
<rect x="467" y="124" width="1" height="17" fill="#000"/>
<rect x="466" y="134" width="3" height="5" fill="#000"/>
<rect x="471" y="120" width="1" height="22" fill="#000"/>
<rect x="470" y="135" width="3" height="7" fill="#000"/>
<rect x="475" y="150" width="1" height="16" fill="#000"/>
<rect x="474" y="152" width="3" height="2" fill="#000"/>
<rect x="479" y="147" width="1" height="23" fill="#000"/>
<rect x="478" y="148" width="3" height="19" fill="#000"/>
<rect x="483" y="176" width="1" height="21" fill="#000"/>
<rect x="482" y="180" width="3" height="9" fill="#000"/>
<rect x="487" y="163" width="1" height="28" fill="#000"/>
<rect x="486" y="166" width="3" height="20" fill="#000"/>
<rect x="487" y="167" width="1" height="18" fill="#fff"/>
<rect x="491" y="151" width="1" height="18" fill="#000"/>
<rect x="490" y="153" width="3" height="13" fill="#000"/>
<rect x="495" y="176" width="1" height="20" fill="#000"/>
<rect x="494" y="181" width="3" height="4" fill="#000"/>
<rect x="495" y="182" width="1" height="2" fill="#fff"/>
<rect x="499" y="171" width="1" height="23" fill="#000"/>
<rect x="498" y="172" width="3" height="8" fill="#000"/>
<rect x="503" y="157" width="1" height="23" fill="#000"/>
<rect x="502" y="161" width="3" height="14" fill="#000"/>
<rect x="503" y="162" width="1" height="12" fill="#fff"/>
<rect x="507" y="146" width="1" height="20" fill="#000"/>
<rect x="506" y="146" width="3" height="11" fill="#000"/>
<rect x="507" y="147" width="1" height="9" fill="#fff"/>
<rect x="511" y="144" width="1" height="10" fill="#000"/>
<rect x="510" y="145" width="3" height="7" fill="#000"/>
<rect x="515" y="144" width="1" height="17" fill="#000"/>
<rect x="514" y="147" width="3" height="8" fill="#000"/>
<rect x="515" y="148" width="1" height="6" fill="#fff"/>
<rect x="519" y="138" width="1" height="14" fill="#000"/>
<rect x="518" y="145" width="3" height="5" fill="#000"/>
<rect x="519" y="146" width="1" height="3" fill="#fff"/>
<rect x="523" y="150" width="1" height="17" fill="#000"/>
<rect x="522" y="150" width="3" height="12" fill="#000"/>
<rect x="527" y="156" width="1" height="19" fill="#000"/>
<rect x="526" y="156" width="3" height="15" fill="#000"/>
<rect x="531" y="162" width="1" height="10" fill="#000"/>
<rect x="530" y="165" width="3" height="2" fill="#000"/>
<rect x="535" y="157" width="1" height="16" fill="#000"/>
<rect x="534" y="160" width="3" height="9" fill="#000"/>
<rect x="539" y="161" width="1" height="9" fill="#000"/>
<rect x="538" y="163" width="3" height="5" fill="#000"/>
<rect x="543" y="143" width="1" height="28" fill="#000"/>
<rect x="542" y="144" width="3" height="24" fill="#000"/>
<rect x="543" y="145" width="1" height="22" fill="#fff"/>
<rect x="547" y="138" width="1" height="13" fill="#000"/>
<rect x="546" y="139" width="3" height="9" fill="#000"/>
<rect x="547" y="140" width="1" height="7" fill="#fff"/>
<rect x="551" y="119" width="1" height="27" fill="#000"/>
<rect x="550" y="122" width="3" height="20" fill="#000"/>
<rect x="551" y="123" width="1" height="18" fill="#fff"/>
<rect x="555" y="106" width="1" height="13" fill="#000"/>
<rect x="554" y="115" width="3" height="4" fill="#000"/>
<rect x="555" y="116" width="1" height="2" fill="#fff"/>
<rect x="559" y="87" width="1" height="33" fill="#000"/>
<rect x="558" y="90" width="3" height="29" fill="#000"/>
<rect x="559" y="91" width="1" height="27" fill="#fff"/>
<rect x="563" y="95" width="1" height="12" fill="#000"/>
<rect x="562" y="99" width="3" height="6" fill="#000"/>
<rect x="567" y="97" width="1" height="13" fill="#000"/>
<rect x="566" y="101" width="3" height="2" fill="#000"/>
<rect x="571" y="99" width="1" height="17" fill="#000"/>
<rect x="570" y="99" width="3" height="6" fill="#000"/>
<rect x="571" y="100" width="1" height="4" fill="#fff"/>
<rect x="575" y="83" width="1" height="19" fill="#000"/>
<rect x="574" y="86" width="3" height="15" fill="#000"/>
<rect x="575" y="87" width="1" height="13" fill="#fff"/>
<rect x="579" y="72" width="1" height="15" fill="#000"/>
<rect x="578" y="75" width="3" height="9" fill="#000"/>
<rect x="579" y="76" width="1" height="7" fill="#fff"/>
<rect x="583" y="70" width="1" height="18" fill="#000"/>
<rect x="582" y="74" width="3" height="10" fill="#000"/>
<rect x="587" y="78" width="1" height="10" fill="#000"/>
<rect x="586" y="79" width="3" height="2" fill="#000"/>
<rect x="591" y="62" width="1" height="17" fill="#000"/>
<rect x="590" y="71" width="3" height="7" fill="#000"/>
<rect x="591" y="72" width="1" height="5" fill="#fff"/>
<rect x="595" y="35" width="1" height="30" fill="#000"/>
<rect x="594" y="38" width="3" height="25" fill="#000"/>
<rect x="595" y="39" width="1" height="23" fill="#fff"/>
<rect x="599" y="31" width="1" height="15" fill="#000"/>
<rect x="598" y="35" width="3" height="6" fill="#000"/>
<rect x="603" y="17" width="1" height="16" fill="#000"/>
<rect x="602" y="17" width="3" height="14" fill="#000"/>
<rect x="603" y="18" width="1" height="12" fill="#fff"/>
<rect x="607" y="29" width="1" height="31" fill="#000"/>
<rect x="606" y="29" width="3" height="22" fill="#000"/>
<rect x="611" y="32" width="1" height="29" fill="#000"/>
<rect x="610" y="32" width="3" height="16" fill="#000"/>
<rect x="611" y="33" width="1" height="14" fill="#fff"/>
<rect x="615" y="26" width="1" height="14" fill="#000"/>
<rect x="614" y="26" width="3" height="5" fill="#000"/>
<rect x="615" y="27" width="1" height="3" fill="#fff"/>
<rect x="619" y="21" width="1" height="19" fill="#000"/>
<rect x="618" y="21" width="3" height="9" fill="#000"/>
<rect x="623" y="29" width="1" height="24" fill="#000"/>
<rect x="622" y="29" width="3" height="7" fill="#000"/>
<rect x="627" y="24" width="1" height="13" fill="#000"/>
<rect x="626" y="28" width="3" height="6" fill="#000"/>
<rect x="627" y="29" width="1" height="4" fill="#fff"/>
<rect x="655" y="31" width="2" height="1" fill="#000"/>
<text x="659.8" y="35" fill="#000" textLength="33.4" lengthAdjust="spacingAndGlyphs">3278.15</text>
<rect x="655" y="97" width="2" height="1" fill="#000"/>
<text x="659.8" y="101" fill="#000" textLength="33.4" lengthAdjust="spacingAndGlyphs">3120.70</text>
<rect x="655" y="130" width="2" height="1" fill="#000"/>
<text x="659.8" y="134" fill="#000" textLength="33.4" lengthAdjust="spacingAndGlyphs">3043.15</text>
<rect x="655" y="163" width="2" height="1" fill="#000"/>
<text x="659.8" y="167" fill="#000" textLength="33.4" lengthAdjust="spacingAndGlyphs">2963.25</text>
<rect x="655" y="196" width="2" height="1" fill="#000"/>
<text x="659.8" y="200" fill="#000" textLength="33.4" lengthAdjust="spacingAndGlyphs">2883.35</text>
<rect x="655" y="262" width="2" height="1" fill="#000"/>
<text x="659.8" y="266" fill="#000" textLength="33.4" lengthAdjust="spacingAndGlyphs">2725.90</text>
<rect x="655" y="295" width="2" height="1" fill="#000"/>
<text x="659.8" y="299" fill="#000" textLength="33.4" lengthAdjust="spacingAndGlyphs">2648.35</text>
<rect x="656" y="22" width="41" height="11" fill="#000"/>
<text x="659.8" y="31" fill="#fff" textLength="33.4" lengthAdjust="spacingAndGlyphs">3287.71</text>
<rect x="656" y="16" width="41" height="11" fill="#ff0000"/>
<text x="659.8" y="25" fill="#fff" textLength="33.4" lengthAdjust="spacingAndGlyphs">3300.00</text>
<rect x="656" y="58" width="41" height="11" fill="#ff0000"/>
<text x="659.8" y="67" fill="#fff" textLength="33.4" lengthAdjust="spacingAndGlyphs">3200.00</text>
<rect x="656" y="142" width="41" height="11" fill="#ff0000"/>
<text x="659.8" y="151" fill="#fff" textLength="33.4" lengthAdjust="spacingAndGlyphs">3000.00</text>
<rect x="656" y="225" width="41" height="11" fill="#ff0000"/>
<text x="659.8" y="234" fill="#fff" textLength="33.4" lengthAdjust="spacingAndGlyphs">2800.00</text>
<rect x="656" y="267" width="41" height="11" fill="#ff4500"/>
<text x="659.8" y="276" fill="#fff" textLength="33.4" lengthAdjust="spacingAndGlyphs">2700.00</text>
<text x="658.1" y="311" fill="#000" textLength="27.8" lengthAdjust="spacingAndGlyphs">83.269</text>
<rect x="656" y="317" width="7" height="11" fill="#000"/>
<text x="656.9" y="325.7" fill="#fff" textLength="5.4" lengthAdjust="spacingAndGlyphs">0</text>
<text x="663.4" y="325.7" fill="#000" textLength="13.0" lengthAdjust="spacingAndGlyphs">.00</text>
<text x="658.1" y="338" fill="#000" textLength="30.8" lengthAdjust="spacingAndGlyphs">-76.923</text>
<text x="658.1" y="354" fill="#000" textLength="33.1" lengthAdjust="spacingAndGlyphs">65.5048</text>
<text x="658.1" y="374" fill="#000" textLength="33.1" lengthAdjust="spacingAndGlyphs">35.5895</text>
<text x="658.9" y="390" fill="#000" textLength="14.4" lengthAdjust="spacingAndGlyphs">100</text>
<text x="658.1" y="394.3" fill="#000" textLength="9.4" lengthAdjust="spacingAndGlyphs">70</text>
<text x="658.1" y="407" fill="#000" textLength="9.4" lengthAdjust="spacingAndGlyphs">30</text>
<text x="658.6" y="410.3" fill="#000" textLength="5.4" lengthAdjust="spacingAndGlyphs">0</text>
<text x="658.1" y="426.5" fill="#000" textLength="10.1" lengthAdjust="spacingAndGlyphs">62</text>
<text x="658.1" y="434" fill="#000" textLength="10.1" lengthAdjust="spacingAndGlyphs">47</text>
<text x="658.1" y="441.5" fill="#000" textLength="10.1" lengthAdjust="spacingAndGlyphs">32</text>
<clipPath id="c17"><rect x="655" y="430" width="45" height="16.5"/></clipPath>
<g clip-path="url(#c17)">
<text x="658.1" y="448" fill="#000" textLength="10.1" lengthAdjust="spacingAndGlyphs">17</text>
</g>
<text x="658.6" y="457.7" fill="#000" textLength="19.8" lengthAdjust="spacingAndGlyphs">1960</text>
<text x="658.6" y="476" fill="#000" textLength="5.4" lengthAdjust="spacingAndGlyphs">0</text>
<rect x="655" y="423" width="2" height="1" fill="#000"/>
<rect x="655" y="430" width="2" height="1" fill="#000"/>
<rect x="655" y="437" width="2" height="1" fill="#000"/>
<rect x="655" y="444" width="2" height="1" fill="#000"/>
<rect x="655" y="390" width="2" height="1" fill="#000"/>
<rect x="655" y="403" width="2" height="1" fill="#000"/>
<rect x="655" y="301" width="1" height="1" fill="#000"/>
<rect x="655" y="340" width="1" height="1" fill="#000"/>
<rect x="655" y="344" width="1" height="1" fill="#000"/>
<rect x="655" y="376" width="1" height="1" fill="#000"/>
<rect x="655" y="380" width="1" height="1" fill="#000"/>
<rect x="655" y="412" width="1" height="1" fill="#000"/>
<rect x="655" y="416" width="1" height="1" fill="#000"/>
<rect x="655" y="444" width="1" height="1" fill="#000"/>
<rect x="655" y="448" width="1" height="1" fill="#000"/>
<rect x="655" y="478" width="1" height="1" fill="#000"/>
<text x="6.6" y="14.2" fill="#000" textLength="65.6" lengthAdjust="spacingAndGlyphs">WIG20_T,Daily</text>
<text x="78.1" y="14.2" fill="#000" textLength="32.4" lengthAdjust="spacingAndGlyphs">3273.36</text>
<text x="114.2" y="14.2" fill="#000" textLength="32.4" lengthAdjust="spacingAndGlyphs">3296.51</text>
<text x="150.5" y="14.2" fill="#000" textLength="32.4" lengthAdjust="spacingAndGlyphs">3266.73</text>
<text x="186.6" y="14.2" fill="#000" textLength="32.4" lengthAdjust="spacingAndGlyphs">3287.71</text>
<text x="7.2" y="313" fill="#000" textLength="61.2" lengthAdjust="spacingAndGlyphs">MACD(3,10,5)</text>
<text x="71.2" y="313" fill="#000" textLength="28.2" lengthAdjust="spacingAndGlyphs">27.685</text>
<text x="102.0" y="313" fill="#000" textLength="27.4" lengthAdjust="spacingAndGlyphs">37.921</text>
<text x="7.2" y="356.3" fill="#000" textLength="35.2" lengthAdjust="spacingAndGlyphs">ATR(14)</text>
<text x="45.2" y="356.3" fill="#000" textLength="32.8" lengthAdjust="spacingAndGlyphs">48.4707</text>
<text x="7.2" y="392.3" fill="#000" textLength="31.2" lengthAdjust="spacingAndGlyphs">RSI(14)</text>
<text x="41.2" y="392.3" fill="#000" textLength="33.6" lengthAdjust="spacingAndGlyphs">67.1413</text>
<text x="7.2" y="428.3" fill="#000" textLength="35.6" lengthAdjust="spacingAndGlyphs">ADX(14)</text>
<text x="45.2" y="428.3" fill="#000" textLength="32.8" lengthAdjust="spacingAndGlyphs">53.5626</text>
<text x="82.0" y="428.3" fill="#000" textLength="53.4" lengthAdjust="spacingAndGlyphs">+DI:31.7155</text>
<text x="138.0" y="428.3" fill="#000" textLength="50.0" lengthAdjust="spacingAndGlyphs">-DI:12.8545</text>
<text x="7.2" y="460.5" fill="#000" textLength="35.6" lengthAdjust="spacingAndGlyphs">Volumes</text>
<text x="46.0" y="460.5" fill="#000" textLength="14.8" lengthAdjust="spacingAndGlyphs">637</text>
<rect x="3" y="480" width="1" height="3" fill="#000"/>
<text x="2.3" y="492" fill="#000" textLength="54.8" lengthAdjust="spacingAndGlyphs">29 May 2025</text>
<rect x="67" y="480" width="1" height="3" fill="#000"/>
<text x="66.2" y="492" fill="#000" textLength="50.0" lengthAdjust="spacingAndGlyphs">23 Jun 2025</text>
<rect x="131" y="480" width="1" height="3" fill="#000"/>
<text x="131.1" y="492" fill="#000" textLength="45.8" lengthAdjust="spacingAndGlyphs">15 Jul 2025</text>
<rect x="195" y="480" width="1" height="3" fill="#000"/>
<text x="194.3" y="492" fill="#000" textLength="46.8" lengthAdjust="spacingAndGlyphs">6 Aug 2025</text>
<rect x="259" y="480" width="1" height="3" fill="#000"/>
<text x="258.6" y="492" fill="#000" textLength="52.0" lengthAdjust="spacingAndGlyphs">29 Aug 2025</text>
<rect x="323" y="480" width="1" height="3" fill="#000"/>
<text x="322.5" y="492" fill="#000" textLength="51.4" lengthAdjust="spacingAndGlyphs">22 Sep 2025</text>
<rect x="387" y="480" width="1" height="3" fill="#000"/>
<text x="386.4" y="492" fill="#000" textLength="50.8" lengthAdjust="spacingAndGlyphs">14 Oct 2025</text>
<rect x="451" y="480" width="1" height="3" fill="#000"/>
<text x="450.3" y="492" fill="#000" textLength="49.4" lengthAdjust="spacingAndGlyphs">5 Nov 2025</text>
<rect x="515" y="480" width="1" height="3" fill="#000"/>
<text x="514.5" y="492" fill="#000" textLength="54.1" lengthAdjust="spacingAndGlyphs">28 Nov 2025</text>
<rect x="579" y="480" width="1" height="3" fill="#000"/>
<text x="578.7" y="492" fill="#000" textLength="51.4" lengthAdjust="spacingAndGlyphs">22 Dec 2025</text>
</svg>
</body></html>
